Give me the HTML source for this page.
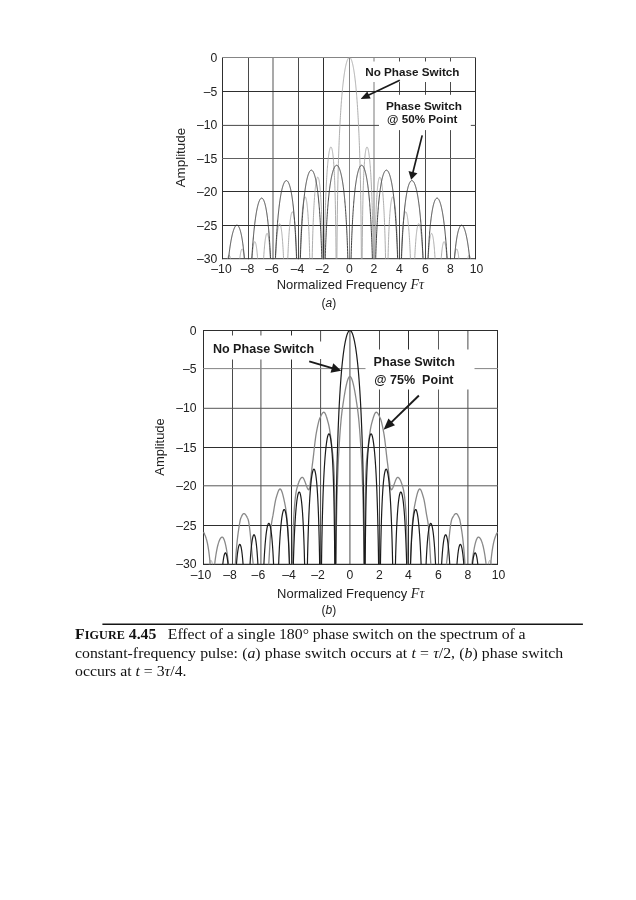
<!DOCTYPE html>
<html><head><meta charset="utf-8"><title>Figure 4.45</title>
<style>
html,body{margin:0;padding:0;background:#fff;}
body{width:636px;height:900px;position:relative;overflow:hidden;font-family:"Liberation Serif",serif;}
.cap{will-change:transform;position:absolute;left:75.3px;white-space:nowrap;font-family:"Liberation Serif",serif;font-size:15.2px;color:#111;line-height:18px;transform:scaleX(1.0395);transform-origin:0 0;}
.sc{font-weight:bold;font-size:11.7px;letter-spacing:0.1px;line-height:0}
.b{font-weight:bold}
</style></head><body>
<svg width="636" height="900" viewBox="0 0 636 900" style="position:absolute;left:0;top:0;will-change:transform" font-family="'Liberation Sans', sans-serif">
<line x1="222.5" y1="57" x2="222.5" y2="259.2" stroke="#2e2e2e" stroke-width="1.0"/>
<line x1="248.5" y1="57" x2="248.5" y2="259.2" stroke="#4a4a4a" stroke-width="1.0"/>
<line x1="273" y1="57" x2="273" y2="259.2" stroke="#858585" stroke-width="1.4"/>
<line x1="298.5" y1="57" x2="298.5" y2="259.2" stroke="#4a4a4a" stroke-width="1.0"/>
<line x1="323.5" y1="57" x2="323.5" y2="259.2" stroke="#2e2e2e" stroke-width="1.0"/>
<line x1="349.5" y1="57" x2="349.5" y2="259.2" stroke="#858585" stroke-width="1.0"/>
<line x1="374" y1="57" x2="374" y2="259.2" stroke="#a6a6a6" stroke-width="1.5"/>
<line x1="399.5" y1="57" x2="399.5" y2="259.2" stroke="#4a4a4a" stroke-width="1.0"/>
<line x1="425.5" y1="57" x2="425.5" y2="259.2" stroke="#4a4a4a" stroke-width="1.0"/>
<line x1="450.5" y1="57" x2="450.5" y2="259.2" stroke="#4a4a4a" stroke-width="1.0"/>
<line x1="475.5" y1="57" x2="475.5" y2="259.2" stroke="#2e2e2e" stroke-width="1.0"/>
<line x1="222" y1="57.5" x2="476" y2="57.5" stroke="#858585" stroke-width="1.0"/>
<line x1="222" y1="91.5" x2="476" y2="91.5" stroke="#2e2e2e" stroke-width="1.0"/>
<line x1="222" y1="125.4" x2="476" y2="125.4" stroke="#484848" stroke-width="1.0"/>
<line x1="222" y1="158.5" x2="476" y2="158.5" stroke="#606060" stroke-width="1.2"/>
<line x1="222" y1="191.5" x2="476" y2="191.5" stroke="#2e2e2e" stroke-width="1.0"/>
<line x1="222" y1="225.5" x2="476" y2="225.5" stroke="#2e2e2e" stroke-width="1.0"/>
<line x1="222" y1="258.7" x2="476" y2="258.7" stroke="#2e2e2e" stroke-width="1.0"/>
<rect x="361.5" y="61.5" width="103.5" height="20.5" fill="#fff"/>
<rect x="379" y="94.8" width="91.8" height="35.3" fill="#fff"/>
<path d="M227.73,258.7 L227.8,258.36 L227.91,257.9 L228.01,257.48 L228.12,257.1 L228.22,256.76 L228.32,256.45 L228.43,256.18 L228.53,255.95 L228.64,255.76 L228.74,255.6 L228.84,255.48 L228.95,255.39 L229.05,255.34 L229.16,255.33 L229.26,255.36 L229.36,255.42 L229.47,255.51 L229.57,255.65 L229.68,255.82 L229.78,256.03 L229.88,256.28 L229.99,256.56 L230.09,256.88 L230.2,257.25 L230.3,257.65 L230.4,258.09 L230.51,258.57 L230.53,258.7 M239.8,258.7 L239.87,258.07 L239.97,257.22 L240.08,256.42 L240.18,255.66 L240.28,254.95 L240.39,254.28 L240.49,253.65 L240.6,253.06 L240.7,252.52 L240.8,252.01 L240.91,251.55 L241.01,251.12 L241.12,250.73 L241.22,250.38 L241.32,250.07 L241.43,249.8 L241.53,249.56 L241.64,249.36 L241.74,249.2 L241.84,249.07 L241.95,248.98 L242.05,248.93 L242.16,248.91 L242.26,248.93 L242.36,248.98 L242.47,249.07 L242.57,249.2 L242.68,249.37 L242.78,249.57 L242.88,249.81 L242.99,250.09 L243.09,250.41 L243.2,250.76 L243.3,251.16 L243.4,251.6 L243.51,252.07 L243.61,252.59 L243.72,253.15 L243.82,253.76 L243.92,254.41 L244.03,255.1 L244.13,255.84 L244.24,256.63 L244.34,257.47 L244.44,258.36 L244.48,258.7 M251.91,258.7 L251.93,258.43 L252.03,257.2 L252.13,256.03 L252.22,254.92 L252.32,253.86 L252.42,252.86 L252.52,251.9 L252.62,251 L252.71,250.14 L252.81,249.33 L252.91,248.56 L253.01,247.84 L253.11,247.17 L253.2,246.53 L253.3,245.94 L253.4,245.39 L253.5,244.88 L253.6,244.4 L253.69,243.97 L253.79,243.58 L253.89,243.22 L253.99,242.9 L254.09,242.62 L254.18,242.38 L254.28,242.17 L254.38,242 L254.48,241.86 L254.58,241.76 L254.67,241.7 L254.77,241.68 L254.87,241.69 L254.97,241.74 L255.07,241.82 L255.16,241.94 L255.26,242.1 L255.36,242.3 L255.46,242.53 L255.56,242.8 L255.65,243.11 L255.75,243.46 L255.85,243.85 L255.95,244.28 L256.05,244.75 L256.14,245.26 L256.24,245.81 L256.34,246.41 L256.44,247.05 L256.54,247.74 L256.63,248.47 L256.73,249.26 L256.83,250.09 L256.93,250.97 L257.03,251.91 L257.12,252.9 L257.22,253.94 L257.32,255.05 L257.42,256.21 L257.52,257.45 L257.61,258.7 M263.62,258.7 L263.69,257.6 L263.79,256.02 L263.89,254.52 L263.98,253.09 L264.08,251.73 L264.18,250.43 L264.28,249.19 L264.38,248.02 L264.47,246.89 L264.57,245.83 L264.67,244.81 L264.77,243.85 L264.87,242.93 L264.96,242.07 L265.06,241.25 L265.16,240.47 L265.26,239.74 L265.36,239.06 L265.45,238.41 L265.55,237.81 L265.65,237.25 L265.75,236.73 L265.85,236.25 L265.94,235.81 L266.04,235.4 L266.14,235.04 L266.24,234.71 L266.34,234.42 L266.43,234.16 L266.53,233.95 L266.63,233.77 L266.73,233.62 L266.83,233.52 L266.92,233.45 L267.02,233.41 L267.12,233.41 L267.22,233.45 L267.32,233.53 L267.41,233.64 L267.51,233.79 L267.61,233.97 L267.71,234.2 L267.81,234.46 L267.9,234.76 L268,235.1 L268.1,235.48 L268.2,235.9 L268.3,236.36 L268.39,236.86 L268.49,237.4 L268.59,237.99 L268.69,238.62 L268.79,239.3 L268.88,240.02 L268.98,240.79 L269.08,241.62 L269.18,242.49 L269.28,243.41 L269.37,244.39 L269.47,245.43 L269.57,246.53 L269.67,247.68 L269.77,248.9 L269.86,250.19 L269.96,251.55 L270.06,252.98 L270.16,254.49 L270.26,256.08 L270.35,257.76 L270.41,258.7 M275.5,258.7 L275.55,257.55 L275.65,255.53 L275.75,253.6 L275.86,251.77 L275.96,250.03 L276.06,248.36 L276.16,246.78 L276.26,245.27 L276.37,243.82 L276.47,242.45 L276.57,241.14 L276.67,239.89 L276.77,238.7 L276.88,237.56 L276.98,236.49 L277.08,235.46 L277.18,234.48 L277.28,233.56 L277.39,232.68 L277.49,231.85 L277.59,231.06 L277.69,230.32 L277.79,229.62 L277.9,228.96 L278,228.35 L278.1,227.78 L278.2,227.24 L278.3,226.75 L278.41,226.29 L278.51,225.88 L278.61,225.5 L278.71,225.15 L278.81,224.84 L278.92,224.57 L279.02,224.33 L279.12,224.13 L279.22,223.97 L279.32,223.85 L279.43,223.76 L279.53,223.71 L279.63,223.7 L279.73,223.73 L279.83,223.79 L279.94,223.89 L280.04,224.03 L280.14,224.21 L280.24,224.43 L280.34,224.68 L280.45,224.97 L280.55,225.31 L280.65,225.68 L280.75,226.08 L280.85,226.53 L280.96,227.02 L281.06,227.55 L281.16,228.12 L281.26,228.74 L281.36,229.4 L281.47,230.12 L281.57,230.87 L281.67,231.68 L281.77,232.54 L281.87,233.45 L281.98,234.42 L282.08,235.44 L282.18,236.52 L282.28,237.67 L282.38,238.87 L282.49,240.15 L282.59,241.49 L282.69,242.91 L282.79,244.4 L282.89,245.98 L283,247.64 L283.1,249.4 L283.2,251.25 L283.3,253.21 L283.4,255.29 L283.51,257.48 L283.56,258.7 M287.79,258.7 L287.79,258.59 L287.89,255.93 L287.99,253.42 L288.1,251.04 L288.2,248.78 L288.3,246.64 L288.4,244.6 L288.5,242.66 L288.61,240.81 L288.71,239.05 L288.81,237.37 L288.91,235.76 L289.01,234.24 L289.12,232.78 L289.22,231.38 L289.32,230.06 L289.42,228.79 L289.52,227.58 L289.63,226.43 L289.73,225.33 L289.83,224.26 L289.93,223.24 L290.03,222.28 L290.14,221.36 L290.24,220.49 L290.34,219.67 L290.44,218.89 L290.54,218.15 L290.65,217.46 L290.75,216.82 L290.85,216.21 L290.95,215.65 L291.05,215.12 L291.16,214.64 L291.26,214.19 L291.36,213.79 L291.46,213.42 L291.56,213.09 L291.67,212.8 L291.77,212.54 L291.87,212.33 L291.97,212.15 L292.07,212.01 L292.18,211.9 L292.28,211.83 L292.38,211.8 L292.48,211.81 L292.58,211.85 L292.69,211.94 L292.79,212.05 L292.89,212.21 L292.99,212.41 L293.09,212.64 L293.2,212.92 L293.3,213.23 L293.4,213.59 L293.5,213.98 L293.6,214.42 L293.71,214.9 L293.81,215.42 L293.91,215.99 L294.01,216.6 L294.11,217.26 L294.22,217.97 L294.32,218.73 L294.42,219.53 L294.52,220.39 L294.62,221.3 L294.73,222.27 L294.83,223.3 L294.93,224.39 L295.03,225.54 L295.13,226.72 L295.24,227.97 L295.34,229.3 L295.44,230.69 L295.54,232.17 L295.64,233.72 L295.75,235.37 L295.85,237.1 L295.95,238.94 L296.05,240.88 L296.15,242.93 L296.26,245.1 L296.36,247.41 L296.46,249.86 L296.56,252.46 L296.66,255.24 L296.77,258.21 L296.78,258.7 M300.07,258.7 L300.1,257.7 L300.2,254.29 L300.3,251.09 L300.4,248.08 L300.5,245.24 L300.6,242.56 L300.7,240.02 L300.8,237.62 L300.9,235.33 L301,233.16 L301.1,231.1 L301.2,229.13 L301.3,227.26 L301.4,225.47 L301.5,223.72 L301.6,222.06 L301.7,220.46 L301.8,218.94 L301.9,217.49 L302,216.1 L302.1,214.78 L302.2,213.52 L302.3,212.31 L302.4,211.16 L302.5,210.06 L302.6,209.02 L302.7,208.02 L302.8,207.08 L302.9,206.18 L303,205.33 L303.1,204.52 L303.2,203.76 L303.3,203.04 L303.4,202.37 L303.5,201.73 L303.6,201.14 L303.7,200.59 L303.8,200.07 L303.9,199.6 L304,199.17 L304.1,198.77 L304.2,198.41 L304.3,198.09 L304.4,197.81 L304.5,197.56 L304.6,197.35 L304.7,197.18 L304.8,197.04 L304.9,196.94 L305,196.88 L305.1,196.86 L305.2,196.87 L305.3,196.92 L305.4,197.01 L305.5,197.14 L305.6,197.3 L305.7,197.51 L305.8,197.75 L305.9,198.03 L306,198.36 L306.1,198.72 L306.2,199.13 L306.3,199.57 L306.4,200.07 L306.5,200.6 L306.6,201.18 L306.7,201.81 L306.8,202.48 L306.9,203.21 L307,203.98 L307.1,204.81 L307.2,205.69 L307.3,206.62 L307.4,207.62 L307.5,208.67 L307.6,209.78 L307.7,210.97 L307.8,212.21 L307.9,213.54 L308,214.93 L308.1,216.41 L308.2,217.97 L308.3,219.61 L308.4,221.36 L308.5,223.2 L308.6,225.15 L308.7,227.18 L308.8,229.31 L308.9,231.59 L309,234 L309.1,236.57 L309.2,239.32 L309.3,242.25 L309.4,245.4 L309.5,248.78 L309.6,252.43 L309.7,256.39 L309.75,258.7 M312.17,258.7 L312.2,257.02 L312.3,252.39 L312.4,248.13 L312.5,244.16 L312.6,240.47 L312.7,237.02 L312.8,233.77 L312.9,230.72 L313,227.84 L313.1,225.11 L313.2,222.47 L313.3,219.96 L313.4,217.58 L313.5,215.31 L313.6,213.15 L313.7,211.09 L313.8,209.13 L313.9,207.25 L314,205.46 L314.1,203.75 L314.2,202.11 L314.3,200.54 L314.4,199.05 L314.5,197.61 L314.6,196.24 L314.7,194.93 L314.8,193.68 L314.9,192.48 L315,191.34 L315.1,190.28 L315.2,189.27 L315.3,188.3 L315.4,187.38 L315.5,186.51 L315.6,185.68 L315.7,184.89 L315.8,184.15 L315.9,183.44 L316,182.78 L316.1,182.15 L316.2,181.57 L316.3,181.02 L316.4,180.51 L316.5,180.04 L316.6,179.6 L316.7,179.2 L316.8,178.84 L316.9,178.51 L317,178.22 L317.1,177.97 L317.2,177.75 L317.3,177.56 L317.4,177.42 L317.5,177.3 L317.6,177.23 L317.7,177.19 L317.8,177.18 L317.9,177.22 L318,177.28 L318.1,177.39 L318.2,177.53 L318.3,177.71 L318.4,177.93 L318.5,178.19 L318.6,178.49 L318.7,178.82 L318.8,179.2 L318.9,179.62 L319,180.08 L319.1,180.59 L319.2,181.14 L319.3,181.73 L319.4,182.38 L319.5,183.07 L319.6,183.81 L319.7,184.6 L319.8,185.45 L319.9,186.36 L320,187.32 L320.1,188.34 L320.2,189.42 L320.3,190.57 L320.4,191.8 L320.5,193.13 L320.6,194.54 L320.7,196.03 L320.8,197.62 L320.9,199.29 L321,201.07 L321.1,202.95 L321.2,204.95 L321.3,207.07 L321.4,209.33 L321.5,211.73 L321.6,214.3 L321.7,217.04 L321.8,219.97 L321.9,223.12 L322,226.49 L322.1,230.08 L322.2,233.97 L322.3,238.21 L322.4,242.87 L322.5,248.02 L322.6,253.76 L322.68,258.7 M324.3,258.7 L324.33,256.53 L324.44,249.6 L324.54,243.4 L324.64,237.79 L324.75,232.67 L324.85,227.96 L324.96,223.57 L325.06,219.42 L325.16,215.55 L325.27,211.93 L325.37,208.52 L325.48,205.3 L325.58,202.26 L325.68,199.38 L325.79,196.65 L325.89,194.05 L326,191.58 L326.1,189.28 L326.2,187.1 L326.31,185.01 L326.41,183.01 L326.52,181.09 L326.62,179.26 L326.72,177.5 L326.83,175.82 L326.93,174.2 L327.04,172.65 L327.14,171.16 L327.24,169.73 L327.35,168.36 L327.45,167.04 L327.56,165.78 L327.66,164.57 L327.76,163.4 L327.87,162.29 L327.97,161.22 L328.08,160.2 L328.18,159.22 L328.28,158.28 L328.39,157.38 L328.49,156.53 L328.6,155.71 L328.7,154.93 L328.8,154.2 L328.91,153.5 L329.01,152.83 L329.12,152.21 L329.22,151.62 L329.32,151.07 L329.43,150.55 L329.53,150.07 L329.64,149.62 L329.74,149.21 L329.84,148.84 L329.95,148.49 L330.05,148.19 L330.16,147.92 L330.26,147.68 L330.36,147.48 L330.47,147.31 L330.57,147.18 L330.68,147.08 L330.78,147.02 L330.88,146.99 L330.99,147 L331.09,147.05 L331.2,147.13 L331.3,147.26 L331.4,147.42 L331.51,147.61 L331.61,147.85 L331.72,148.13 L331.82,148.45 L331.92,148.82 L332.03,149.22 L332.13,149.67 L332.24,150.17 L332.34,150.72 L332.44,151.31 L332.55,151.95 L332.65,152.65 L332.76,153.4 L332.86,154.21 L332.96,155.07 L333.07,156 L333.17,156.99 L333.28,158.05 L333.38,159.18 L333.48,160.38 L333.59,161.67 L333.69,163.03 L333.8,164.49 L333.9,166.04 L334,167.69 L334.11,169.46 L334.21,171.34 L334.32,173.35 L334.42,175.5 L334.52,177.8 L334.63,180.28 L334.73,182.94 L334.84,185.81 L334.94,188.91 L335.04,192.3 L335.15,196.08 L335.25,200.22 L335.36,204.79 L335.46,209.85 L335.56,215.51 L335.67,221.92 L335.77,229.18 L335.88,237.55 L335.98,247.56 L336.07,258.7 M336.9,258.7 L336.92,256.24 L337.02,242.94 L337.12,232.01 L337.23,222.65 L337.33,214.35 L337.44,206.99 L337.54,200.38 L337.64,194.36 L337.75,188.93 L337.85,183.98 L337.96,179.38 L338.06,175.08 L338.16,171.05 L338.27,167.25 L338.37,163.65 L338.48,160.24 L338.58,156.99 L338.68,153.89 L338.79,150.92 L338.89,148.08 L339,145.36 L339.1,142.75 L339.2,140.23 L339.31,137.81 L339.41,135.47 L339.52,133.22 L339.62,131.03 L339.72,128.93 L339.83,126.88 L339.93,124.89 L340.04,122.93 L340.14,121.02 L340.24,119.17 L340.35,117.37 L340.45,115.62 L340.56,113.92 L340.66,112.27 L340.76,110.66 L340.87,109.09 L340.97,107.56 L341.08,106.07 L341.18,104.62 L341.28,103.21 L341.39,101.83 L341.49,100.48 L341.6,99.17 L341.7,97.89 L341.8,96.64 L341.91,95.41 L342.01,94.22 L342.12,93.06 L342.22,91.92 L342.32,90.81 L342.43,89.72 L342.53,88.66 L342.64,87.62 L342.74,86.61 L342.84,85.62 L342.95,84.65 L343.05,83.7 L343.16,82.78 L343.26,81.88 L343.36,81 L343.47,80.14 L343.57,79.3 L343.68,78.48 L343.78,77.68 L343.88,76.9 L343.99,76.13 L344.09,75.39 L344.2,74.66 L344.3,73.96 L344.4,73.27 L344.51,72.59 L344.61,71.94 L344.72,71.3 L344.82,70.68 L344.92,70.07 L345.03,69.48 L345.13,68.91 L345.24,68.35 L345.34,67.81 L345.44,67.28 L345.55,66.77 L345.65,66.27 L345.76,65.79 L345.86,65.32 L345.96,64.87 L346.07,64.43 L346.17,64.01 L346.28,63.6 L346.38,63.21 L346.48,62.83 L346.59,62.46 L346.69,62.1 L346.8,61.76 L346.9,61.44 L347,61.13 L347.11,60.83 L347.21,60.54 L347.32,60.27 L347.42,60.01 L347.52,59.76 L347.63,59.53 L347.73,59.31 L347.84,59.1 L347.94,58.91 L348.04,58.72 L348.15,58.55 L348.25,58.4 L348.36,58.25 L348.46,58.12 L348.56,58 L348.67,57.9 L348.77,57.8 L348.88,57.72 L348.98,57.66 L349.08,57.6 L349.19,57.56 L349.29,57.52 L349.4,57.51 L349.5,57.5 L349.6,57.51 L349.7,57.52 L349.79,57.56 L349.89,57.6 L349.99,57.66 L350.09,57.72 L350.19,57.8 L350.28,57.9 L350.38,58 L350.48,58.12 L350.58,58.25 L350.68,58.4 L350.77,58.55 L350.87,58.72 L350.97,58.91 L351.07,59.1 L351.17,59.31 L351.26,59.53 L351.36,59.76 L351.46,60.01 L351.56,60.27 L351.66,60.54 L351.75,60.83 L351.85,61.13 L351.95,61.44 L352.05,61.76 L352.15,62.1 L352.24,62.46 L352.34,62.83 L352.44,63.21 L352.54,63.6 L352.64,64.01 L352.73,64.43 L352.83,64.87 L352.93,65.32 L353.03,65.79 L353.13,66.27 L353.22,66.77 L353.32,67.28 L353.42,67.81 L353.52,68.35 L353.62,68.91 L353.71,69.48 L353.81,70.07 L353.91,70.68 L354.01,71.3 L354.11,71.94 L354.2,72.59 L354.3,73.27 L354.4,73.96 L354.5,74.66 L354.6,75.39 L354.69,76.13 L354.79,76.9 L354.89,77.68 L354.99,78.48 L355.09,79.3 L355.18,80.14 L355.28,81 L355.38,81.88 L355.48,82.78 L355.58,83.7 L355.67,84.65 L355.77,85.62 L355.87,86.61 L355.97,87.62 L356.07,88.66 L356.16,89.72 L356.26,90.81 L356.36,91.92 L356.46,93.06 L356.56,94.22 L356.65,95.41 L356.75,96.64 L356.85,97.89 L356.95,99.17 L357.05,100.48 L357.14,101.83 L357.24,103.21 L357.34,104.62 L357.44,106.07 L357.54,107.56 L357.63,109.09 L357.73,110.66 L357.83,112.27 L357.93,113.92 L358.03,115.62 L358.12,117.37 L358.22,119.17 L358.32,121.02 L358.42,122.93 L358.52,124.89 L358.61,126.88 L358.71,128.93 L358.81,131.03 L358.91,133.22 L359.01,135.47 L359.1,137.81 L359.2,140.23 L359.3,142.75 L359.4,145.36 L359.5,148.08 L359.59,150.92 L359.69,153.89 L359.79,156.99 L359.89,160.24 L359.99,163.65 L360.08,167.25 L360.18,171.05 L360.28,175.08 L360.38,179.38 L360.48,183.98 L360.57,188.93 L360.67,194.36 L360.77,200.38 L360.87,206.99 L360.97,214.35 L361.06,222.65 L361.16,232.01 L361.26,242.94 L361.36,256.24 L361.37,258.7 M362.15,258.7 L362.24,247.56 L362.34,237.55 L362.44,229.18 L362.53,221.92 L362.63,215.51 L362.73,209.85 L362.83,204.79 L362.93,200.22 L363.02,196.08 L363.12,192.3 L363.22,188.91 L363.32,185.81 L363.42,182.94 L363.51,180.28 L363.61,177.8 L363.71,175.5 L363.81,173.35 L363.91,171.34 L364,169.46 L364.1,167.69 L364.2,166.04 L364.3,164.49 L364.4,163.03 L364.49,161.67 L364.59,160.38 L364.69,159.18 L364.79,158.05 L364.89,156.99 L364.98,156 L365.08,155.07 L365.18,154.21 L365.28,153.4 L365.38,152.65 L365.47,151.95 L365.57,151.31 L365.67,150.72 L365.77,150.17 L365.87,149.67 L365.96,149.22 L366.06,148.82 L366.16,148.45 L366.26,148.13 L366.36,147.85 L366.45,147.61 L366.55,147.42 L366.65,147.26 L366.75,147.13 L366.85,147.05 L366.94,147 L367.04,146.99 L367.14,147.02 L367.24,147.08 L367.34,147.18 L367.43,147.31 L367.53,147.48 L367.63,147.68 L367.73,147.92 L367.83,148.19 L367.92,148.49 L368.02,148.84 L368.12,149.21 L368.22,149.62 L368.32,150.07 L368.41,150.55 L368.51,151.07 L368.61,151.62 L368.71,152.21 L368.81,152.83 L368.9,153.5 L369,154.2 L369.1,154.93 L369.2,155.71 L369.3,156.53 L369.39,157.38 L369.49,158.28 L369.59,159.22 L369.69,160.2 L369.79,161.22 L369.88,162.29 L369.98,163.4 L370.08,164.57 L370.18,165.78 L370.28,167.04 L370.37,168.36 L370.47,169.73 L370.57,171.16 L370.67,172.65 L370.77,174.2 L370.86,175.82 L370.96,177.5 L371.06,179.26 L371.16,181.09 L371.26,183.01 L371.35,185.01 L371.45,187.1 L371.55,189.28 L371.65,191.58 L371.75,194.05 L371.84,196.65 L371.94,199.38 L372.04,202.26 L372.14,205.3 L372.24,208.52 L372.33,211.93 L372.43,215.55 L372.53,219.42 L372.63,223.57 L372.73,227.96 L372.82,232.67 L372.92,237.79 L373.02,243.4 L373.12,249.6 L373.22,256.53 L373.24,258.7 M374.84,258.7 L374.92,253.76 L375.02,248.02 L375.12,242.87 L375.22,238.21 L375.33,233.97 L375.43,230.08 L375.53,226.49 L375.63,223.12 L375.73,219.97 L375.84,217.04 L375.94,214.3 L376.04,211.73 L376.14,209.33 L376.24,207.07 L376.35,204.95 L376.45,202.95 L376.55,201.07 L376.65,199.29 L376.75,197.62 L376.86,196.03 L376.96,194.54 L377.06,193.13 L377.16,191.8 L377.26,190.57 L377.37,189.42 L377.47,188.34 L377.57,187.32 L377.67,186.36 L377.77,185.45 L377.88,184.6 L377.98,183.81 L378.08,183.07 L378.18,182.38 L378.28,181.73 L378.39,181.14 L378.49,180.59 L378.59,180.08 L378.69,179.62 L378.79,179.2 L378.9,178.82 L379,178.49 L379.1,178.19 L379.2,177.93 L379.3,177.71 L379.41,177.53 L379.51,177.39 L379.61,177.28 L379.71,177.22 L379.81,177.18 L379.92,177.19 L380.02,177.23 L380.12,177.3 L380.22,177.42 L380.32,177.56 L380.43,177.75 L380.53,177.97 L380.63,178.22 L380.73,178.51 L380.83,178.84 L380.94,179.2 L381.04,179.6 L381.14,180.04 L381.24,180.51 L381.34,181.02 L381.45,181.57 L381.55,182.15 L381.65,182.78 L381.75,183.44 L381.85,184.15 L381.96,184.89 L382.06,185.68 L382.16,186.51 L382.26,187.38 L382.36,188.3 L382.47,189.27 L382.57,190.28 L382.67,191.34 L382.77,192.48 L382.87,193.68 L382.98,194.93 L383.08,196.24 L383.18,197.61 L383.28,199.05 L383.38,200.54 L383.49,202.11 L383.59,203.75 L383.69,205.46 L383.79,207.25 L383.89,209.13 L384,211.09 L384.1,213.15 L384.2,215.31 L384.3,217.58 L384.4,219.96 L384.51,222.47 L384.61,225.11 L384.71,227.84 L384.81,230.72 L384.91,233.77 L385.02,237.02 L385.12,240.47 L385.22,244.16 L385.32,248.13 L385.42,252.39 L385.53,257.02 L385.56,258.7 M388.02,258.7 L388.08,256.39 L388.18,252.43 L388.28,248.78 L388.38,245.4 L388.48,242.25 L388.59,239.32 L388.69,236.57 L388.79,234 L388.89,231.59 L388.99,229.31 L389.1,227.18 L389.2,225.15 L389.3,223.2 L389.4,221.36 L389.5,219.61 L389.61,217.97 L389.71,216.41 L389.81,214.93 L389.91,213.54 L390.01,212.21 L390.12,210.97 L390.22,209.78 L390.32,208.67 L390.42,207.62 L390.52,206.62 L390.63,205.69 L390.73,204.81 L390.83,203.98 L390.93,203.21 L391.03,202.48 L391.14,201.81 L391.24,201.18 L391.34,200.6 L391.44,200.07 L391.54,199.57 L391.65,199.13 L391.75,198.72 L391.85,198.36 L391.95,198.03 L392.05,197.75 L392.16,197.51 L392.26,197.3 L392.36,197.14 L392.46,197.01 L392.56,196.92 L392.67,196.87 L392.77,196.86 L392.87,196.88 L392.97,196.94 L393.07,197.04 L393.18,197.18 L393.28,197.35 L393.38,197.56 L393.48,197.81 L393.58,198.09 L393.69,198.41 L393.79,198.77 L393.89,199.17 L393.99,199.6 L394.09,200.07 L394.2,200.59 L394.3,201.14 L394.4,201.73 L394.5,202.37 L394.6,203.04 L394.71,203.76 L394.81,204.52 L394.91,205.33 L395.01,206.18 L395.11,207.08 L395.22,208.02 L395.32,209.02 L395.42,210.06 L395.52,211.16 L395.62,212.31 L395.73,213.52 L395.83,214.78 L395.93,216.1 L396.03,217.49 L396.13,218.94 L396.24,220.46 L396.34,222.06 L396.44,223.72 L396.54,225.47 L396.64,227.26 L396.75,229.13 L396.85,231.1 L396.95,233.16 L397.05,235.33 L397.15,237.62 L397.26,240.02 L397.36,242.56 L397.46,245.24 L397.56,248.08 L397.66,251.09 L397.77,254.29 L397.87,257.7 L397.9,258.7 M401.25,258.7 L401.27,258.21 L401.37,255.24 L401.48,252.46 L401.58,249.86 L401.68,247.41 L401.79,245.1 L401.89,242.93 L402,240.88 L402.1,238.94 L402.2,237.1 L402.31,235.37 L402.41,233.72 L402.52,232.17 L402.62,230.69 L402.72,229.3 L402.83,227.97 L402.93,226.72 L403.04,225.54 L403.14,224.39 L403.24,223.3 L403.35,222.27 L403.45,221.3 L403.56,220.39 L403.66,219.53 L403.76,218.73 L403.87,217.97 L403.97,217.26 L404.08,216.6 L404.18,215.99 L404.28,215.42 L404.39,214.9 L404.49,214.42 L404.6,213.98 L404.7,213.59 L404.8,213.23 L404.91,212.92 L405.01,212.64 L405.12,212.41 L405.22,212.21 L405.32,212.05 L405.43,211.94 L405.53,211.85 L405.64,211.81 L405.74,211.8 L405.84,211.83 L405.95,211.9 L406.05,212.01 L406.16,212.15 L406.26,212.33 L406.36,212.54 L406.47,212.8 L406.57,213.09 L406.68,213.42 L406.78,213.79 L406.88,214.19 L406.99,214.64 L407.09,215.12 L407.2,215.65 L407.3,216.21 L407.4,216.82 L407.51,217.46 L407.61,218.15 L407.72,218.89 L407.82,219.67 L407.92,220.49 L408.03,221.36 L408.13,222.28 L408.24,223.24 L408.34,224.26 L408.44,225.33 L408.55,226.43 L408.65,227.58 L408.76,228.79 L408.86,230.06 L408.96,231.38 L409.07,232.78 L409.17,234.24 L409.28,235.76 L409.38,237.37 L409.48,239.05 L409.59,240.81 L409.69,242.66 L409.8,244.6 L409.9,246.64 L410,248.78 L410.11,251.04 L410.21,253.42 L410.32,255.93 L410.42,258.59 L410.42,258.7 M414.73,258.7 L414.79,257.48 L414.89,255.29 L415,253.21 L415.1,251.25 L415.2,249.4 L415.31,247.64 L415.41,245.98 L415.52,244.4 L415.62,242.91 L415.72,241.49 L415.83,240.15 L415.93,238.87 L416.04,237.67 L416.14,236.52 L416.24,235.44 L416.35,234.42 L416.45,233.45 L416.56,232.54 L416.66,231.68 L416.76,230.87 L416.87,230.12 L416.97,229.4 L417.08,228.74 L417.18,228.12 L417.28,227.55 L417.39,227.02 L417.49,226.53 L417.6,226.08 L417.7,225.68 L417.8,225.31 L417.91,224.97 L418.01,224.68 L418.12,224.43 L418.22,224.21 L418.32,224.03 L418.43,223.89 L418.53,223.79 L418.64,223.73 L418.74,223.7 L418.84,223.71 L418.95,223.76 L419.05,223.85 L419.16,223.97 L419.26,224.13 L419.36,224.33 L419.47,224.57 L419.57,224.84 L419.68,225.15 L419.78,225.5 L419.88,225.88 L419.99,226.29 L420.09,226.75 L420.2,227.24 L420.3,227.78 L420.4,228.35 L420.51,228.96 L420.61,229.62 L420.72,230.32 L420.82,231.06 L420.92,231.85 L421.03,232.68 L421.13,233.56 L421.24,234.48 L421.34,235.46 L421.44,236.49 L421.55,237.56 L421.65,238.7 L421.76,239.89 L421.86,241.14 L421.96,242.45 L422.07,243.82 L422.17,245.27 L422.28,246.78 L422.38,248.36 L422.48,250.03 L422.59,251.77 L422.69,253.6 L422.8,255.53 L422.9,257.55 L422.96,258.7 M428.15,258.7 L428.2,257.76 L428.3,256.08 L428.4,254.49 L428.5,252.98 L428.6,251.55 L428.7,250.19 L428.8,248.9 L428.9,247.68 L429,246.53 L429.1,245.43 L429.2,244.39 L429.3,243.41 L429.4,242.49 L429.5,241.62 L429.6,240.79 L429.7,240.02 L429.8,239.3 L429.9,238.62 L430,237.99 L430.1,237.4 L430.2,236.86 L430.3,236.36 L430.4,235.9 L430.5,235.48 L430.6,235.1 L430.7,234.76 L430.8,234.46 L430.9,234.2 L431,233.97 L431.1,233.79 L431.2,233.64 L431.3,233.53 L431.4,233.45 L431.5,233.41 L431.6,233.41 L431.7,233.45 L431.8,233.52 L431.9,233.62 L432,233.77 L432.1,233.95 L432.2,234.16 L432.3,234.42 L432.4,234.71 L432.5,235.04 L432.6,235.4 L432.7,235.81 L432.8,236.25 L432.9,236.73 L433,237.25 L433.1,237.81 L433.2,238.41 L433.3,239.06 L433.4,239.74 L433.5,240.47 L433.6,241.25 L433.7,242.07 L433.8,242.93 L433.9,243.85 L434,244.81 L434.1,245.83 L434.2,246.89 L434.3,248.02 L434.4,249.19 L434.5,250.43 L434.6,251.73 L434.7,253.09 L434.8,254.52 L434.9,256.02 L435,257.6 L435.07,258.7 M441.2,258.7 L441.3,257.45 L441.4,256.21 L441.5,255.05 L441.6,253.94 L441.7,252.9 L441.8,251.91 L441.9,250.97 L442,250.09 L442.1,249.26 L442.2,248.47 L442.3,247.74 L442.4,247.05 L442.5,246.41 L442.6,245.81 L442.7,245.26 L442.8,244.75 L442.9,244.28 L443,243.85 L443.1,243.46 L443.2,243.11 L443.3,242.8 L443.4,242.53 L443.5,242.3 L443.6,242.1 L443.7,241.94 L443.8,241.82 L443.9,241.74 L444,241.69 L444.1,241.68 L444.2,241.7 L444.3,241.76 L444.4,241.86 L444.5,242 L444.6,242.17 L444.7,242.38 L444.8,242.62 L444.9,242.9 L445,243.22 L445.1,243.58 L445.2,243.97 L445.3,244.4 L445.4,244.88 L445.5,245.39 L445.6,245.94 L445.7,246.53 L445.8,247.17 L445.9,247.84 L446,248.56 L446.1,249.33 L446.2,250.14 L446.3,251 L446.4,251.9 L446.5,252.86 L446.6,253.86 L446.7,254.92 L446.8,256.03 L446.9,257.2 L447,258.43 L447.02,258.7 M454.36,258.7 L454.4,258.36 L454.5,257.47 L454.6,256.63 L454.7,255.84 L454.8,255.1 L454.9,254.41 L455,253.76 L455.1,253.15 L455.2,252.59 L455.3,252.07 L455.4,251.6 L455.5,251.16 L455.6,250.76 L455.7,250.41 L455.8,250.09 L455.9,249.81 L456,249.57 L456.1,249.37 L456.2,249.2 L456.3,249.07 L456.4,248.98 L456.5,248.93 L456.6,248.91 L456.7,248.93 L456.8,248.98 L456.9,249.07 L457,249.2 L457.1,249.36 L457.2,249.56 L457.3,249.8 L457.4,250.07 L457.5,250.38 L457.6,250.73 L457.7,251.12 L457.8,251.55 L457.9,252.01 L458,252.52 L458.1,253.06 L458.2,253.65 L458.3,254.28 L458.4,254.95 L458.5,255.66 L458.6,256.42 L458.7,257.22 L458.8,258.07 L458.87,258.7 M467.78,258.7 L467.8,258.57 L467.9,258.09 L468,257.65 L468.1,257.25 L468.2,256.88 L468.3,256.56 L468.4,256.28 L468.5,256.03 L468.6,255.82 L468.7,255.65 L468.8,255.51 L468.9,255.42 L469,255.36 L469.1,255.33 L469.2,255.34 L469.3,255.39 L469.4,255.48 L469.5,255.6 L469.6,255.76 L469.7,255.95 L469.8,256.18 L469.9,256.45 L470,256.76 L470.1,257.1 L470.2,257.48 L470.3,257.9 L470.4,258.36 L470.47,258.7" fill="none" stroke="#a4a4a4" stroke-width="0.9" stroke-linejoin="round"/>
<path d="M228.53,258.7 L228.53,258.68 L228.64,257.73 L228.74,256.81 L228.84,255.9 L228.95,255.02 L229.05,254.15 L229.16,253.3 L229.26,252.47 L229.36,251.66 L229.47,250.86 L229.57,250.08 L229.68,249.32 L229.78,248.57 L229.88,247.84 L229.99,247.12 L230.09,246.42 L230.2,245.73 L230.3,245.05 L230.4,244.4 L230.51,243.75 L230.61,243.12 L230.72,242.5 L230.82,241.89 L230.92,241.3 L231.03,240.72 L231.13,240.16 L231.24,239.6 L231.34,239.06 L231.44,238.53 L231.55,238.01 L231.65,237.51 L231.76,237.01 L231.86,236.53 L231.96,236.06 L232.07,235.59 L232.17,235.14 L232.28,234.71 L232.38,234.28 L232.48,233.86 L232.59,233.45 L232.69,233.06 L232.8,232.67 L232.9,232.3 L233,231.93 L233.11,231.58 L233.21,231.23 L233.32,230.9 L233.42,230.57 L233.52,230.26 L233.63,229.95 L233.73,229.66 L233.84,229.37 L233.94,229.1 L234.04,228.83 L234.15,228.58 L234.25,228.33 L234.36,228.09 L234.46,227.86 L234.56,227.64 L234.67,227.44 L234.77,227.24 L234.88,227.05 L234.98,226.86 L235.08,226.69 L235.19,226.53 L235.29,226.38 L235.4,226.23 L235.5,226.1 L235.6,225.97 L235.71,225.86 L235.81,225.75 L235.92,225.65 L236.02,225.57 L236.12,225.49 L236.23,225.42 L236.33,225.36 L236.44,225.3 L236.54,225.26 L236.64,225.23 L236.75,225.21 L236.85,225.19 L236.96,225.19 L237.06,225.2 L237.16,225.21 L237.27,225.24 L237.37,225.28 L237.48,225.32 L237.58,225.38 L237.68,225.45 L237.79,225.52 L237.89,225.61 L238,225.7 L238.1,225.81 L238.2,225.92 L238.31,226.05 L238.41,226.19 L238.52,226.33 L238.62,226.49 L238.72,226.66 L238.83,226.84 L238.93,227.03 L239.04,227.23 L239.14,227.44 L239.24,227.67 L239.35,227.9 L239.45,228.15 L239.56,228.41 L239.66,228.68 L239.76,228.96 L239.87,229.25 L239.97,229.56 L240.08,229.88 L240.18,230.21 L240.28,230.56 L240.39,230.92 L240.49,231.29 L240.6,231.67 L240.7,232.07 L240.8,232.48 L240.91,232.91 L241.01,233.35 L241.12,233.81 L241.22,234.28 L241.32,234.77 L241.43,235.28 L241.53,235.8 L241.64,236.33 L241.74,236.89 L241.84,237.46 L241.95,238.05 L242.05,238.65 L242.16,239.28 L242.26,239.92 L242.36,240.59 L242.47,241.27 L242.57,241.97 L242.68,242.7 L242.78,243.45 L242.88,244.22 L242.99,245.01 L243.09,245.83 L243.2,246.67 L243.3,247.54 L243.4,248.44 L243.51,249.36 L243.61,250.31 L243.72,251.29 L243.82,252.3 L243.92,253.35 L244.03,254.42 L244.13,255.53 L244.24,256.68 L244.34,257.87 L244.41,258.7 M251.83,258.7 L251.83,258.58 L251.93,256.91 L252.03,255.3 L252.13,253.73 L252.22,252.2 L252.32,250.72 L252.42,249.28 L252.52,247.89 L252.62,246.52 L252.71,245.2 L252.81,243.91 L252.91,242.65 L253.01,241.42 L253.11,240.23 L253.2,239.06 L253.3,237.92 L253.4,236.81 L253.5,235.73 L253.6,234.67 L253.69,233.64 L253.79,232.63 L253.89,231.64 L253.99,230.68 L254.09,229.74 L254.18,228.82 L254.28,227.92 L254.38,227.04 L254.48,226.18 L254.58,225.34 L254.67,224.5 L254.77,223.67 L254.87,222.87 L254.97,222.08 L255.07,221.31 L255.16,220.56 L255.26,219.82 L255.36,219.1 L255.46,218.4 L255.56,217.71 L255.65,217.03 L255.75,216.38 L255.85,215.73 L255.95,215.1 L256.05,214.49 L256.14,213.89 L256.24,213.3 L256.34,212.72 L256.44,212.16 L256.54,211.61 L256.63,211.08 L256.73,210.56 L256.83,210.05 L256.93,209.55 L257.03,209.06 L257.12,208.59 L257.22,208.13 L257.32,207.68 L257.42,207.24 L257.52,206.81 L257.61,206.4 L257.71,205.99 L257.81,205.6 L257.91,205.22 L258.01,204.84 L258.1,204.48 L258.2,204.13 L258.3,203.79 L258.4,203.46 L258.5,203.14 L258.59,202.84 L258.69,202.54 L258.79,202.25 L258.89,201.97 L258.99,201.7 L259.08,201.44 L259.18,201.2 L259.28,200.96 L259.38,200.73 L259.48,200.51 L259.57,200.3 L259.67,200.1 L259.77,199.91 L259.87,199.73 L259.97,199.56 L260.06,199.4 L260.16,199.25 L260.26,199.11 L260.36,198.97 L260.46,198.85 L260.55,198.74 L260.65,198.63 L260.75,198.54 L260.85,198.45 L260.95,198.38 L261.04,198.31 L261.14,198.26 L261.24,198.21 L261.34,198.17 L261.44,198.14 L261.53,198.13 L261.63,198.12 L261.73,198.12 L261.83,198.13 L261.93,198.15 L262.02,198.18 L262.12,198.22 L262.22,198.27 L262.32,198.33 L262.42,198.39 L262.51,198.47 L262.61,198.56 L262.71,198.66 L262.81,198.77 L262.91,198.89 L263,199.02 L263.1,199.16 L263.2,199.31 L263.3,199.47 L263.4,199.64 L263.49,199.82 L263.59,200.01 L263.69,200.22 L263.79,200.43 L263.89,200.66 L263.98,200.89 L264.08,201.14 L264.18,201.4 L264.28,201.67 L264.38,201.95 L264.47,202.25 L264.57,202.55 L264.67,202.87 L264.77,203.2 L264.87,203.54 L264.96,203.9 L265.06,204.27 L265.16,204.65 L265.26,205.04 L265.36,205.45 L265.45,205.87 L265.55,206.31 L265.65,206.76 L265.75,207.22 L265.85,207.7 L265.94,208.19 L266.04,208.7 L266.14,209.23 L266.24,209.77 L266.34,210.32 L266.43,210.9 L266.53,211.49 L266.63,212.1 L266.73,212.72 L266.83,213.36 L266.92,214.02 L267.02,214.71 L267.12,215.41 L267.22,216.13 L267.32,216.87 L267.41,217.63 L267.51,218.41 L267.61,219.22 L267.71,220.05 L267.81,220.9 L267.9,221.78 L268,222.68 L268.1,223.61 L268.2,224.57 L268.3,225.55 L268.39,226.54 L268.49,227.56 L268.59,228.61 L268.69,229.69 L268.79,230.81 L268.88,231.96 L268.98,233.14 L269.08,234.37 L269.18,235.63 L269.28,236.93 L269.37,238.28 L269.47,239.67 L269.57,241.11 L269.67,242.6 L269.77,244.15 L269.86,245.75 L269.96,247.41 L270.06,249.13 L270.16,250.92 L270.26,252.78 L270.35,254.72 L270.45,256.75 L270.54,258.7 M275.41,258.7 L275.45,257.68 L275.55,255.33 L275.65,253.08 L275.75,250.92 L275.86,248.84 L275.96,246.84 L276.06,244.91 L276.16,243.04 L276.26,241.24 L276.37,239.5 L276.47,237.81 L276.57,236.18 L276.67,234.6 L276.77,233.07 L276.88,231.58 L276.98,230.13 L277.08,228.73 L277.18,227.37 L277.28,226.04 L277.39,224.73 L277.49,223.44 L277.59,222.19 L277.69,220.97 L277.79,219.78 L277.9,218.63 L278,217.5 L278.1,216.4 L278.2,215.32 L278.3,214.27 L278.41,213.25 L278.51,212.25 L278.61,211.28 L278.71,210.33 L278.81,209.4 L278.92,208.49 L279.02,207.61 L279.12,206.74 L279.22,205.9 L279.32,205.07 L279.43,204.27 L279.53,203.48 L279.63,202.71 L279.73,201.96 L279.83,201.22 L279.94,200.5 L280.04,199.8 L280.14,199.12 L280.24,198.45 L280.34,197.79 L280.45,197.16 L280.55,196.53 L280.65,195.92 L280.75,195.33 L280.85,194.75 L280.96,194.18 L281.06,193.63 L281.16,193.09 L281.26,192.56 L281.36,192.05 L281.47,191.55 L281.57,191.07 L281.67,190.61 L281.77,190.16 L281.87,189.72 L281.98,189.3 L282.08,188.88 L282.18,188.48 L282.28,188.09 L282.38,187.7 L282.49,187.33 L282.59,186.97 L282.69,186.62 L282.79,186.29 L282.89,185.96 L283,185.64 L283.1,185.33 L283.2,185.04 L283.3,184.75 L283.4,184.47 L283.51,184.21 L283.61,183.95 L283.71,183.7 L283.81,183.46 L283.91,183.24 L284.02,183.02 L284.12,182.81 L284.22,182.61 L284.32,182.42 L284.42,182.24 L284.53,182.07 L284.63,181.91 L284.73,181.76 L284.83,181.62 L284.93,181.48 L285.04,181.36 L285.14,181.24 L285.24,181.14 L285.34,181.04 L285.44,180.95 L285.55,180.88 L285.65,180.81 L285.75,180.75 L285.85,180.7 L285.95,180.66 L286.06,180.62 L286.16,180.6 L286.26,180.59 L286.36,180.58 L286.46,180.59 L286.57,180.6 L286.67,180.62 L286.77,180.66 L286.87,180.7 L286.97,180.75 L287.08,180.81 L287.18,180.88 L287.28,180.96 L287.38,181.05 L287.48,181.15 L287.59,181.25 L287.69,181.37 L287.79,181.5 L287.89,181.64 L287.99,181.78 L288.1,181.94 L288.2,182.11 L288.3,182.28 L288.4,182.47 L288.5,182.67 L288.61,182.87 L288.71,183.09 L288.81,183.32 L288.91,183.56 L289.01,183.81 L289.12,184.07 L289.22,184.34 L289.32,184.62 L289.42,184.91 L289.52,185.22 L289.63,185.54 L289.73,185.86 L289.83,186.2 L289.93,186.55 L290.03,186.92 L290.14,187.29 L290.24,187.68 L290.34,188.08 L290.44,188.5 L290.54,188.92 L290.65,189.36 L290.75,189.81 L290.85,190.28 L290.95,190.76 L291.05,191.26 L291.16,191.77 L291.26,192.32 L291.36,192.87 L291.46,193.44 L291.56,194.03 L291.67,194.63 L291.77,195.25 L291.87,195.89 L291.97,196.55 L292.07,197.22 L292.18,197.92 L292.28,198.63 L292.38,199.36 L292.48,200.11 L292.58,200.88 L292.69,201.67 L292.79,202.49 L292.89,203.32 L292.99,204.18 L293.09,205.07 L293.2,205.98 L293.3,206.91 L293.4,207.87 L293.5,208.86 L293.6,209.87 L293.71,210.92 L293.81,211.99 L293.91,213.1 L294.01,214.23 L294.11,215.41 L294.22,216.61 L294.32,217.86 L294.42,219.14 L294.52,220.46 L294.62,221.83 L294.73,223.24 L294.83,224.69 L294.93,226.18 L295.03,227.7 L295.13,229.28 L295.24,230.91 L295.34,232.6 L295.44,234.35 L295.54,236.17 L295.64,238.06 L295.75,240.03 L295.85,242.08 L295.95,244.22 L296.05,246.45 L296.15,248.79 L296.26,251.24 L296.36,253.81 L296.46,256.52 L296.54,258.7 M300.37,258.7 L300.4,257.77 L300.5,254.83 L300.6,252.04 L300.7,249.39 L300.8,246.85 L300.9,244.43 L301,242.11 L301.1,239.88 L301.2,237.75 L301.3,235.7 L301.4,233.72 L301.5,231.82 L301.6,229.98 L301.7,228.21 L301.8,226.49 L301.9,224.82 L302,223.18 L302.1,221.58 L302.2,220.04 L302.3,218.54 L302.4,217.09 L302.5,215.68 L302.6,214.31 L302.7,212.98 L302.8,211.69 L302.9,210.43 L303,209.21 L303.1,208.01 L303.2,206.85 L303.3,205.72 L303.4,204.62 L303.5,203.55 L303.6,202.5 L303.7,201.48 L303.8,200.49 L303.9,199.51 L304,198.57 L304.1,197.64 L304.2,196.74 L304.3,195.86 L304.4,195.01 L304.5,194.17 L304.6,193.35 L304.7,192.55 L304.8,191.77 L304.9,191.03 L305,190.31 L305.1,189.6 L305.2,188.92 L305.3,188.24 L305.4,187.59 L305.5,186.95 L305.6,186.33 L305.7,185.72 L305.8,185.13 L305.9,184.55 L306,183.98 L306.1,183.43 L306.2,182.89 L306.3,182.37 L306.4,181.86 L306.5,181.36 L306.6,180.87 L306.7,180.4 L306.8,179.94 L306.9,179.49 L307,179.06 L307.1,178.63 L307.2,178.22 L307.3,177.82 L307.4,177.43 L307.5,177.05 L307.6,176.69 L307.7,176.33 L307.8,175.99 L307.9,175.65 L308,175.33 L308.1,175.02 L308.2,174.71 L308.3,174.42 L308.4,174.14 L308.5,173.87 L308.6,173.61 L308.7,173.36 L308.8,173.11 L308.9,172.88 L309,172.66 L309.1,172.45 L309.2,172.25 L309.3,172.05 L309.4,171.87 L309.5,171.7 L309.6,171.53 L309.7,171.38 L309.8,171.23 L309.9,171.1 L310,170.97 L310.1,170.85 L310.2,170.74 L310.3,170.64 L310.4,170.56 L310.5,170.47 L310.6,170.4 L310.7,170.34 L310.8,170.29 L310.9,170.24 L311,170.21 L311.1,170.18 L311.2,170.17 L311.3,170.16 L311.4,170.16 L311.5,170.17 L311.6,170.19 L311.7,170.22 L311.8,170.26 L311.9,170.31 L312,170.37 L312.1,170.43 L312.2,170.51 L312.3,170.59 L312.4,170.69 L312.5,170.79 L312.6,170.9 L312.7,171.03 L312.8,171.16 L312.9,171.3 L313,171.45 L313.1,171.61 L313.2,171.79 L313.3,171.97 L313.4,172.16 L313.5,172.36 L313.6,172.57 L313.7,172.79 L313.8,173.02 L313.9,173.26 L314,173.52 L314.1,173.78 L314.2,174.05 L314.3,174.34 L314.4,174.63 L314.5,174.94 L314.6,175.26 L314.7,175.59 L314.8,175.93 L314.9,176.28 L315,176.64 L315.1,177.02 L315.2,177.4 L315.3,177.8 L315.4,178.22 L315.5,178.64 L315.6,179.08 L315.7,179.53 L315.8,179.99 L315.9,180.47 L316,180.96 L316.1,181.46 L316.2,181.98 L316.3,182.52 L316.4,183.06 L316.5,183.63 L316.6,184.2 L316.7,184.8 L316.8,185.41 L316.9,186.03 L317,186.68 L317.1,187.34 L317.2,188.02 L317.3,188.71 L317.4,189.43 L317.5,190.16 L317.6,190.91 L317.7,191.69 L317.8,192.51 L317.9,193.34 L318,194.21 L318.1,195.09 L318.2,196 L318.3,196.93 L318.4,197.89 L318.5,198.87 L318.6,199.88 L318.7,200.92 L318.8,201.99 L318.9,203.09 L319,204.22 L319.1,205.38 L319.2,206.57 L319.3,207.81 L319.4,209.07 L319.5,210.38 L319.6,211.73 L319.7,213.12 L319.8,214.55 L319.9,216.03 L320,217.56 L320.1,219.14 L320.2,220.77 L320.3,222.47 L320.4,224.22 L320.5,226.03 L320.6,227.87 L320.7,229.78 L320.8,231.77 L320.9,233.85 L321,236.01 L321.1,238.27 L321.2,240.63 L321.3,243.1 L321.4,245.7 L321.5,248.43 L321.6,251.31 L321.7,254.35 L321.8,257.57 L321.83,258.7 M325.21,258.7 L325.27,256.9 L325.37,253.64 L325.48,250.56 L325.58,247.64 L325.68,244.87 L325.79,242.24 L325.89,239.72 L326,237.32 L326.1,235.03 L326.2,232.83 L326.31,230.71 L326.41,228.68 L326.52,226.73 L326.62,224.83 L326.72,222.97 L326.83,221.18 L326.93,219.44 L327.04,217.77 L327.14,216.15 L327.24,214.58 L327.35,213.06 L327.45,211.59 L327.56,210.16 L327.66,208.77 L327.76,207.42 L327.87,206.11 L327.97,204.84 L328.08,203.61 L328.18,202.4 L328.28,201.23 L328.39,200.09 L328.49,198.99 L328.6,197.91 L328.7,196.86 L328.8,195.83 L328.91,194.83 L329.01,193.86 L329.12,192.91 L329.22,191.99 L329.32,191.1 L329.43,190.25 L329.53,189.41 L329.64,188.6 L329.74,187.81 L329.84,187.04 L329.95,186.29 L330.05,185.55 L330.16,184.83 L330.26,184.13 L330.36,183.45 L330.47,182.79 L330.57,182.14 L330.68,181.5 L330.78,180.89 L330.88,180.28 L330.99,179.7 L331.09,179.12 L331.2,178.57 L331.3,178.02 L331.4,177.49 L331.51,176.98 L331.61,176.47 L331.72,175.98 L331.82,175.51 L331.92,175.04 L332.03,174.59 L332.13,174.15 L332.24,173.73 L332.34,173.31 L332.44,172.91 L332.55,172.52 L332.65,172.14 L332.76,171.77 L332.86,171.41 L332.96,171.07 L333.07,170.73 L333.17,170.41 L333.28,170.09 L333.38,169.79 L333.48,169.5 L333.59,169.22 L333.69,168.95 L333.8,168.69 L333.9,168.44 L334,168.2 L334.11,167.97 L334.21,167.74 L334.32,167.53 L334.42,167.33 L334.52,167.14 L334.63,166.96 L334.73,166.79 L334.84,166.63 L334.94,166.47 L335.04,166.33 L335.15,166.2 L335.25,166.07 L335.36,165.96 L335.46,165.85 L335.56,165.75 L335.67,165.66 L335.77,165.59 L335.88,165.52 L335.98,165.46 L336.08,165.41 L336.19,165.37 L336.29,165.33 L336.4,165.31 L336.5,165.3 L336.6,165.29 L336.71,165.29 L336.81,165.31 L336.92,165.33 L337.02,165.36 L337.12,165.4 L337.23,165.45 L337.33,165.51 L337.44,165.58 L337.54,165.66 L337.64,165.74 L337.75,165.84 L337.85,165.95 L337.96,166.06 L338.06,166.18 L338.16,166.32 L338.27,166.46 L338.37,166.61 L338.48,166.78 L338.58,166.95 L338.68,167.13 L338.79,167.32 L338.89,167.52 L339,167.74 L339.1,167.96 L339.2,168.19 L339.31,168.43 L339.41,168.68 L339.52,168.94 L339.62,169.22 L339.72,169.5 L339.83,169.79 L339.93,170.1 L340.04,170.41 L340.14,170.74 L340.24,171.08 L340.35,171.43 L340.45,171.79 L340.56,172.16 L340.66,172.54 L340.76,172.94 L340.87,173.35 L340.97,173.77 L341.08,174.2 L341.18,174.64 L341.28,175.1 L341.39,175.57 L341.49,176.05 L341.6,176.55 L341.7,177.06 L341.8,177.59 L341.91,178.13 L342.01,178.68 L342.12,179.25 L342.22,179.83 L342.32,180.43 L342.43,181.04 L342.53,181.67 L342.64,182.32 L342.74,182.98 L342.84,183.66 L342.95,184.36 L343.05,185.07 L343.16,185.81 L343.26,186.56 L343.36,187.33 L343.47,188.13 L343.57,188.94 L343.68,189.77 L343.78,190.63 L343.88,191.51 L343.99,192.44 L344.09,193.39 L344.2,194.37 L344.3,195.37 L344.4,196.4 L344.51,197.46 L344.61,198.55 L344.72,199.67 L344.82,200.82 L344.92,202 L345.03,203.22 L345.13,204.47 L345.24,205.76 L345.34,207.08 L345.44,208.45 L345.55,209.86 L345.65,211.32 L345.76,212.82 L345.86,214.36 L345.96,215.97 L346.07,217.62 L346.17,219.33 L346.28,221.11 L346.38,222.95 L346.48,224.85 L346.59,226.8 L346.69,228.81 L346.8,230.91 L346.9,233.09 L347,235.37 L347.11,237.75 L347.21,240.24 L347.32,242.86 L347.42,245.61 L347.52,248.5 L347.63,251.57 L347.73,254.81 L347.84,258.25 L347.85,258.7 M351.06,258.7 L351.07,258.25 L351.17,254.81 L351.26,251.57 L351.36,248.5 L351.46,245.61 L351.56,242.86 L351.66,240.24 L351.75,237.75 L351.85,235.37 L351.95,233.09 L352.05,230.91 L352.15,228.81 L352.24,226.8 L352.34,224.85 L352.44,222.95 L352.54,221.11 L352.64,219.33 L352.73,217.62 L352.83,215.97 L352.93,214.36 L353.03,212.82 L353.13,211.32 L353.22,209.86 L353.32,208.45 L353.42,207.08 L353.52,205.76 L353.62,204.47 L353.71,203.22 L353.81,202 L353.91,200.82 L354.01,199.67 L354.11,198.55 L354.2,197.46 L354.3,196.4 L354.4,195.37 L354.5,194.37 L354.6,193.39 L354.69,192.44 L354.79,191.51 L354.89,190.63 L354.99,189.77 L355.09,188.94 L355.18,188.13 L355.28,187.33 L355.38,186.56 L355.48,185.81 L355.58,185.07 L355.67,184.36 L355.77,183.66 L355.87,182.98 L355.97,182.32 L356.07,181.67 L356.16,181.04 L356.26,180.43 L356.36,179.83 L356.46,179.25 L356.56,178.68 L356.65,178.13 L356.75,177.59 L356.85,177.06 L356.95,176.55 L357.05,176.05 L357.14,175.57 L357.24,175.1 L357.34,174.64 L357.44,174.2 L357.54,173.77 L357.63,173.35 L357.73,172.94 L357.83,172.54 L357.93,172.16 L358.03,171.79 L358.12,171.43 L358.22,171.08 L358.32,170.74 L358.42,170.41 L358.52,170.1 L358.61,169.79 L358.71,169.5 L358.81,169.22 L358.91,168.94 L359.01,168.68 L359.1,168.43 L359.2,168.19 L359.3,167.96 L359.4,167.74 L359.5,167.52 L359.59,167.32 L359.69,167.13 L359.79,166.95 L359.89,166.78 L359.99,166.61 L360.08,166.46 L360.18,166.32 L360.28,166.18 L360.38,166.06 L360.48,165.95 L360.57,165.84 L360.67,165.74 L360.77,165.66 L360.87,165.58 L360.97,165.51 L361.06,165.45 L361.16,165.4 L361.26,165.36 L361.36,165.33 L361.46,165.31 L361.55,165.29 L361.65,165.29 L361.75,165.3 L361.85,165.31 L361.95,165.33 L362.04,165.37 L362.14,165.41 L362.24,165.46 L362.34,165.52 L362.44,165.59 L362.53,165.66 L362.63,165.75 L362.73,165.85 L362.83,165.96 L362.93,166.07 L363.02,166.2 L363.12,166.33 L363.22,166.47 L363.32,166.63 L363.42,166.79 L363.51,166.96 L363.61,167.14 L363.71,167.33 L363.81,167.53 L363.91,167.74 L364,167.97 L364.1,168.2 L364.2,168.44 L364.3,168.69 L364.4,168.95 L364.49,169.22 L364.59,169.5 L364.69,169.79 L364.79,170.09 L364.89,170.41 L364.98,170.73 L365.08,171.07 L365.18,171.41 L365.28,171.77 L365.38,172.14 L365.47,172.52 L365.57,172.91 L365.67,173.31 L365.77,173.73 L365.87,174.15 L365.96,174.59 L366.06,175.04 L366.16,175.51 L366.26,175.98 L366.36,176.47 L366.45,176.98 L366.55,177.49 L366.65,178.02 L366.75,178.57 L366.85,179.12 L366.94,179.7 L367.04,180.28 L367.14,180.89 L367.24,181.5 L367.34,182.14 L367.43,182.79 L367.53,183.45 L367.63,184.13 L367.73,184.83 L367.83,185.55 L367.92,186.29 L368.02,187.04 L368.12,187.81 L368.22,188.6 L368.32,189.41 L368.41,190.25 L368.51,191.1 L368.61,191.99 L368.71,192.91 L368.81,193.86 L368.9,194.83 L369,195.83 L369.1,196.86 L369.2,197.91 L369.3,198.99 L369.39,200.09 L369.49,201.23 L369.59,202.4 L369.69,203.61 L369.79,204.84 L369.88,206.11 L369.98,207.42 L370.08,208.77 L370.18,210.16 L370.28,211.59 L370.37,213.06 L370.47,214.58 L370.57,216.15 L370.67,217.77 L370.77,219.44 L370.86,221.18 L370.96,222.97 L371.06,224.83 L371.16,226.73 L371.26,228.68 L371.35,230.71 L371.45,232.83 L371.55,235.03 L371.65,237.32 L371.75,239.72 L371.84,242.24 L371.94,244.87 L372.04,247.64 L372.14,250.56 L372.24,253.64 L372.33,256.9 L372.38,258.7 M375.7,258.7 L375.73,257.57 L375.84,254.35 L375.94,251.31 L376.04,248.43 L376.14,245.7 L376.24,243.1 L376.35,240.63 L376.45,238.27 L376.55,236.01 L376.65,233.85 L376.75,231.77 L376.86,229.78 L376.96,227.87 L377.06,226.03 L377.16,224.22 L377.26,222.47 L377.37,220.77 L377.47,219.14 L377.57,217.56 L377.67,216.03 L377.77,214.55 L377.88,213.12 L377.98,211.73 L378.08,210.38 L378.18,209.07 L378.28,207.81 L378.39,206.57 L378.49,205.38 L378.59,204.22 L378.69,203.09 L378.79,201.99 L378.9,200.92 L379,199.88 L379.1,198.87 L379.2,197.89 L379.3,196.93 L379.41,196 L379.51,195.09 L379.61,194.21 L379.71,193.34 L379.81,192.51 L379.92,191.69 L380.02,190.91 L380.12,190.16 L380.22,189.43 L380.32,188.71 L380.43,188.02 L380.53,187.34 L380.63,186.68 L380.73,186.03 L380.83,185.41 L380.94,184.8 L381.04,184.2 L381.14,183.63 L381.24,183.06 L381.34,182.52 L381.45,181.98 L381.55,181.46 L381.65,180.96 L381.75,180.47 L381.85,179.99 L381.96,179.53 L382.06,179.08 L382.16,178.64 L382.26,178.22 L382.36,177.8 L382.47,177.4 L382.57,177.02 L382.67,176.64 L382.77,176.28 L382.87,175.93 L382.98,175.59 L383.08,175.26 L383.18,174.94 L383.28,174.63 L383.38,174.34 L383.49,174.05 L383.59,173.78 L383.69,173.52 L383.79,173.26 L383.89,173.02 L384,172.79 L384.1,172.57 L384.2,172.36 L384.3,172.16 L384.4,171.97 L384.51,171.79 L384.61,171.61 L384.71,171.45 L384.81,171.3 L384.91,171.16 L385.02,171.03 L385.12,170.9 L385.22,170.79 L385.32,170.69 L385.42,170.59 L385.53,170.51 L385.63,170.43 L385.73,170.37 L385.83,170.31 L385.93,170.26 L386.04,170.22 L386.14,170.19 L386.24,170.17 L386.34,170.16 L386.44,170.16 L386.55,170.17 L386.65,170.18 L386.75,170.21 L386.85,170.24 L386.95,170.29 L387.06,170.34 L387.16,170.4 L387.26,170.47 L387.36,170.56 L387.46,170.64 L387.57,170.74 L387.67,170.85 L387.77,170.97 L387.87,171.1 L387.97,171.23 L388.08,171.38 L388.18,171.53 L388.28,171.7 L388.38,171.87 L388.48,172.05 L388.59,172.25 L388.69,172.45 L388.79,172.66 L388.89,172.88 L388.99,173.11 L389.1,173.36 L389.2,173.61 L389.3,173.87 L389.4,174.14 L389.5,174.42 L389.61,174.71 L389.71,175.02 L389.81,175.33 L389.91,175.65 L390.01,175.99 L390.12,176.33 L390.22,176.69 L390.32,177.05 L390.42,177.43 L390.52,177.82 L390.63,178.22 L390.73,178.63 L390.83,179.06 L390.93,179.49 L391.03,179.94 L391.14,180.4 L391.24,180.87 L391.34,181.36 L391.44,181.86 L391.54,182.37 L391.65,182.89 L391.75,183.43 L391.85,183.98 L391.95,184.55 L392.05,185.13 L392.16,185.72 L392.26,186.33 L392.36,186.95 L392.46,187.59 L392.56,188.24 L392.67,188.92 L392.77,189.6 L392.87,190.31 L392.97,191.03 L393.07,191.77 L393.18,192.55 L393.28,193.35 L393.38,194.17 L393.48,195.01 L393.58,195.86 L393.69,196.74 L393.79,197.64 L393.89,198.57 L393.99,199.51 L394.09,200.49 L394.2,201.48 L394.3,202.5 L394.4,203.55 L394.5,204.62 L394.6,205.72 L394.71,206.85 L394.81,208.01 L394.91,209.21 L395.01,210.43 L395.11,211.69 L395.22,212.98 L395.32,214.31 L395.42,215.68 L395.52,217.09 L395.62,218.54 L395.73,220.04 L395.83,221.58 L395.93,223.18 L396.03,224.82 L396.13,226.49 L396.24,228.21 L396.34,229.98 L396.44,231.82 L396.54,233.72 L396.64,235.7 L396.75,237.75 L396.85,239.88 L396.95,242.11 L397.05,244.43 L397.15,246.85 L397.26,249.39 L397.36,252.04 L397.46,254.83 L397.56,257.77 L397.59,258.7 M401.5,258.7 L401.58,256.52 L401.68,253.81 L401.79,251.24 L401.89,248.79 L402,246.45 L402.1,244.22 L402.2,242.08 L402.31,240.03 L402.41,238.06 L402.52,236.17 L402.62,234.35 L402.72,232.6 L402.83,230.91 L402.93,229.28 L403.04,227.7 L403.14,226.18 L403.24,224.69 L403.35,223.24 L403.45,221.83 L403.56,220.46 L403.66,219.14 L403.76,217.86 L403.87,216.61 L403.97,215.41 L404.08,214.23 L404.18,213.1 L404.28,211.99 L404.39,210.92 L404.49,209.87 L404.6,208.86 L404.7,207.87 L404.8,206.91 L404.91,205.98 L405.01,205.07 L405.12,204.18 L405.22,203.32 L405.32,202.49 L405.43,201.67 L405.53,200.88 L405.64,200.11 L405.74,199.36 L405.84,198.63 L405.95,197.92 L406.05,197.22 L406.16,196.55 L406.26,195.89 L406.36,195.25 L406.47,194.63 L406.57,194.03 L406.68,193.44 L406.78,192.87 L406.88,192.32 L406.99,191.77 L407.09,191.26 L407.2,190.76 L407.3,190.28 L407.4,189.81 L407.51,189.36 L407.61,188.92 L407.72,188.5 L407.82,188.08 L407.92,187.68 L408.03,187.29 L408.13,186.92 L408.24,186.55 L408.34,186.2 L408.44,185.86 L408.55,185.54 L408.65,185.22 L408.76,184.91 L408.86,184.62 L408.96,184.34 L409.07,184.07 L409.17,183.81 L409.28,183.56 L409.38,183.32 L409.48,183.09 L409.59,182.87 L409.69,182.67 L409.8,182.47 L409.9,182.28 L410,182.11 L410.11,181.94 L410.21,181.78 L410.32,181.64 L410.42,181.5 L410.52,181.37 L410.63,181.25 L410.73,181.15 L410.84,181.05 L410.94,180.96 L411.04,180.88 L411.15,180.81 L411.25,180.75 L411.36,180.7 L411.46,180.66 L411.56,180.62 L411.67,180.6 L411.77,180.59 L411.88,180.58 L411.98,180.59 L412.08,180.6 L412.19,180.62 L412.29,180.66 L412.4,180.7 L412.5,180.75 L412.6,180.81 L412.71,180.88 L412.81,180.95 L412.92,181.04 L413.02,181.14 L413.12,181.24 L413.23,181.36 L413.33,181.48 L413.44,181.62 L413.54,181.76 L413.64,181.91 L413.75,182.07 L413.85,182.24 L413.96,182.42 L414.06,182.61 L414.16,182.81 L414.27,183.02 L414.37,183.24 L414.48,183.46 L414.58,183.7 L414.68,183.95 L414.79,184.21 L414.89,184.47 L415,184.75 L415.1,185.04 L415.2,185.33 L415.31,185.64 L415.41,185.96 L415.52,186.29 L415.62,186.62 L415.72,186.97 L415.83,187.33 L415.93,187.7 L416.04,188.09 L416.14,188.48 L416.24,188.88 L416.35,189.3 L416.45,189.72 L416.56,190.16 L416.66,190.61 L416.76,191.07 L416.87,191.55 L416.97,192.05 L417.08,192.56 L417.18,193.09 L417.28,193.63 L417.39,194.18 L417.49,194.75 L417.6,195.33 L417.7,195.92 L417.8,196.53 L417.91,197.16 L418.01,197.79 L418.12,198.45 L418.22,199.12 L418.32,199.8 L418.43,200.5 L418.53,201.22 L418.64,201.96 L418.74,202.71 L418.84,203.48 L418.95,204.27 L419.05,205.07 L419.16,205.9 L419.26,206.74 L419.36,207.61 L419.47,208.49 L419.57,209.4 L419.68,210.33 L419.78,211.28 L419.88,212.25 L419.99,213.25 L420.09,214.27 L420.2,215.32 L420.3,216.4 L420.4,217.5 L420.51,218.63 L420.61,219.78 L420.72,220.97 L420.82,222.19 L420.92,223.44 L421.03,224.73 L421.13,226.04 L421.24,227.37 L421.34,228.73 L421.44,230.13 L421.55,231.58 L421.65,233.07 L421.76,234.6 L421.86,236.18 L421.96,237.81 L422.07,239.5 L422.17,241.24 L422.28,243.04 L422.38,244.91 L422.48,246.84 L422.59,248.84 L422.69,250.92 L422.8,253.08 L422.9,255.33 L423,257.68 L423.05,258.7 M428.01,258.7 L428.1,256.75 L428.2,254.72 L428.3,252.78 L428.4,250.92 L428.5,249.13 L428.6,247.41 L428.7,245.75 L428.8,244.15 L428.9,242.6 L429,241.11 L429.1,239.67 L429.2,238.28 L429.3,236.93 L429.4,235.63 L429.5,234.37 L429.6,233.14 L429.7,231.96 L429.8,230.81 L429.9,229.69 L430,228.61 L430.1,227.56 L430.2,226.54 L430.3,225.55 L430.4,224.57 L430.5,223.61 L430.6,222.68 L430.7,221.78 L430.8,220.9 L430.9,220.05 L431,219.22 L431.1,218.41 L431.2,217.63 L431.3,216.87 L431.4,216.13 L431.5,215.41 L431.6,214.71 L431.7,214.02 L431.8,213.36 L431.9,212.72 L432,212.1 L432.1,211.49 L432.2,210.9 L432.3,210.32 L432.4,209.77 L432.5,209.23 L432.6,208.7 L432.7,208.19 L432.8,207.7 L432.9,207.22 L433,206.76 L433.1,206.31 L433.2,205.87 L433.3,205.45 L433.4,205.04 L433.5,204.65 L433.6,204.27 L433.7,203.9 L433.8,203.54 L433.9,203.2 L434,202.87 L434.1,202.55 L434.2,202.25 L434.3,201.95 L434.4,201.67 L434.5,201.4 L434.6,201.14 L434.7,200.89 L434.8,200.66 L434.9,200.43 L435,200.22 L435.1,200.01 L435.2,199.82 L435.3,199.64 L435.4,199.47 L435.5,199.31 L435.6,199.16 L435.7,199.02 L435.8,198.89 L435.9,198.77 L436,198.66 L436.1,198.56 L436.2,198.47 L436.3,198.39 L436.4,198.33 L436.5,198.27 L436.6,198.22 L436.7,198.18 L436.8,198.15 L436.9,198.13 L437,198.12 L437.1,198.12 L437.2,198.13 L437.3,198.14 L437.4,198.17 L437.5,198.21 L437.6,198.26 L437.7,198.31 L437.8,198.38 L437.9,198.45 L438,198.54 L438.1,198.63 L438.2,198.74 L438.3,198.85 L438.4,198.97 L438.5,199.11 L438.6,199.25 L438.7,199.4 L438.8,199.56 L438.9,199.73 L439,199.91 L439.1,200.1 L439.2,200.3 L439.3,200.51 L439.4,200.73 L439.5,200.96 L439.6,201.2 L439.7,201.44 L439.8,201.7 L439.9,201.97 L440,202.25 L440.1,202.54 L440.2,202.84 L440.3,203.14 L440.4,203.46 L440.5,203.79 L440.6,204.13 L440.7,204.48 L440.8,204.84 L440.9,205.22 L441,205.6 L441.1,205.99 L441.2,206.4 L441.3,206.81 L441.4,207.24 L441.5,207.68 L441.6,208.13 L441.7,208.59 L441.8,209.06 L441.9,209.55 L442,210.05 L442.1,210.56 L442.2,211.08 L442.3,211.61 L442.4,212.16 L442.5,212.72 L442.6,213.3 L442.7,213.89 L442.8,214.49 L442.9,215.1 L443,215.73 L443.1,216.38 L443.2,217.03 L443.3,217.71 L443.4,218.4 L443.5,219.1 L443.6,219.82 L443.7,220.56 L443.8,221.31 L443.9,222.08 L444,222.87 L444.1,223.67 L444.2,224.5 L444.3,225.34 L444.4,226.18 L444.5,227.04 L444.6,227.92 L444.7,228.82 L444.8,229.74 L444.9,230.68 L445,231.64 L445.1,232.63 L445.2,233.64 L445.3,234.67 L445.4,235.73 L445.5,236.81 L445.6,237.92 L445.7,239.06 L445.8,240.23 L445.9,241.42 L446,242.65 L446.1,243.91 L446.2,245.2 L446.3,246.52 L446.4,247.89 L446.5,249.28 L446.6,250.72 L446.7,252.2 L446.8,253.73 L446.9,255.3 L447,256.91 L447.1,258.58 L447.11,258.7 M454.43,258.7 L454.5,257.87 L454.6,256.68 L454.7,255.53 L454.8,254.42 L454.9,253.35 L455,252.3 L455.1,251.29 L455.2,250.31 L455.3,249.36 L455.4,248.44 L455.5,247.54 L455.6,246.67 L455.7,245.83 L455.8,245.01 L455.9,244.22 L456,243.45 L456.1,242.7 L456.2,241.97 L456.3,241.27 L456.4,240.59 L456.5,239.92 L456.6,239.28 L456.7,238.65 L456.8,238.05 L456.9,237.46 L457,236.89 L457.1,236.33 L457.2,235.8 L457.3,235.28 L457.4,234.77 L457.5,234.28 L457.6,233.81 L457.7,233.35 L457.8,232.91 L457.9,232.48 L458,232.07 L458.1,231.67 L458.2,231.29 L458.3,230.92 L458.4,230.56 L458.5,230.21 L458.6,229.88 L458.7,229.56 L458.8,229.25 L458.9,228.96 L459,228.68 L459.1,228.41 L459.2,228.15 L459.3,227.9 L459.4,227.67 L459.5,227.44 L459.6,227.23 L459.7,227.03 L459.8,226.84 L459.9,226.66 L460,226.49 L460.1,226.33 L460.2,226.19 L460.3,226.05 L460.4,225.92 L460.5,225.81 L460.6,225.7 L460.7,225.61 L460.8,225.52 L460.9,225.45 L461,225.38 L461.1,225.32 L461.2,225.28 L461.3,225.24 L461.4,225.21 L461.5,225.2 L461.6,225.19 L461.7,225.19 L461.8,225.21 L461.9,225.23 L462,225.26 L462.1,225.3 L462.2,225.36 L462.3,225.42 L462.4,225.49 L462.5,225.57 L462.6,225.65 L462.7,225.75 L462.8,225.86 L462.9,225.97 L463,226.1 L463.1,226.23 L463.2,226.38 L463.3,226.53 L463.4,226.69 L463.5,226.86 L463.6,227.05 L463.7,227.24 L463.8,227.44 L463.9,227.64 L464,227.86 L464.1,228.09 L464.2,228.33 L464.3,228.58 L464.4,228.83 L464.5,229.1 L464.6,229.37 L464.7,229.66 L464.8,229.95 L464.9,230.26 L465,230.57 L465.1,230.9 L465.2,231.23 L465.3,231.58 L465.4,231.93 L465.5,232.3 L465.6,232.67 L465.7,233.06 L465.8,233.45 L465.9,233.86 L466,234.28 L466.1,234.71 L466.2,235.14 L466.3,235.59 L466.4,236.06 L466.5,236.53 L466.6,237.01 L466.7,237.51 L466.8,238.01 L466.9,238.53 L467,239.06 L467.1,239.6 L467.2,240.16 L467.3,240.72 L467.4,241.3 L467.5,241.89 L467.6,242.5 L467.7,243.12 L467.8,243.75 L467.9,244.4 L468,245.05 L468.1,245.73 L468.2,246.42 L468.3,247.12 L468.4,247.84 L468.5,248.57 L468.6,249.32 L468.7,250.08 L468.8,250.86 L468.9,251.66 L469,252.47 L469.1,253.3 L469.2,254.15 L469.3,255.02 L469.4,255.9 L469.5,256.81 L469.6,257.73 L469.7,258.68 L469.7,258.7" fill="none" stroke="#383838" stroke-width="0.95" stroke-linejoin="round"/>
<line x1="399.8" y1="80.2" x2="367.18" y2="95.84" stroke="#1a1a1a" stroke-width="1.7"/><polygon points="360.6,99 367.3,91.46 370.67,98.49" fill="#1a1a1a"/>
<line x1="422.2" y1="135.4" x2="412.51" y2="174.07" stroke="#1a1a1a" stroke-width="1.7"/><polygon points="411.1,179.7 408.53,171.02 417.46,173.25" fill="#1a1a1a"/>
<text x="365.2" y="75.9" font-size="11.5" text-anchor="start" font-weight="bold" fill="#1a1a1a" textLength="94.3" lengthAdjust="spacingAndGlyphs" >No Phase Switch</text>
<text x="386" y="109.9" font-size="11.5" text-anchor="start" font-weight="bold" fill="#1a1a1a" textLength="76" lengthAdjust="spacingAndGlyphs" >Phase Switch</text>
<text x="387" y="123" font-size="11.5" text-anchor="start" font-weight="bold" fill="#1a1a1a" textLength="70.5" lengthAdjust="spacingAndGlyphs" >@ 50% Point</text>
<text x="217.3" y="61.5" font-size="12.2" text-anchor="end" font-weight="normal" fill="#222" >0</text>
<text x="217.3" y="95.5" font-size="12.2" text-anchor="end" font-weight="normal" fill="#222" >–5</text>
<text x="217.3" y="129.4" font-size="12.2" text-anchor="end" font-weight="normal" fill="#222" >–10</text>
<text x="217.3" y="162.5" font-size="12.2" text-anchor="end" font-weight="normal" fill="#222" >–15</text>
<text x="217.3" y="195.5" font-size="12.2" text-anchor="end" font-weight="normal" fill="#222" >–20</text>
<text x="217.3" y="229.5" font-size="12.2" text-anchor="end" font-weight="normal" fill="#222" >–25</text>
<text x="217.3" y="262.7" font-size="12.2" text-anchor="end" font-weight="normal" fill="#222" >–30</text>
<text x="221.5" y="272.8" font-size="12.2" text-anchor="middle" font-weight="normal" fill="#222" >–10</text>
<text x="247.5" y="272.8" font-size="12.2" text-anchor="middle" font-weight="normal" fill="#222" >–8</text>
<text x="272" y="272.8" font-size="12.2" text-anchor="middle" font-weight="normal" fill="#222" >–6</text>
<text x="297.5" y="272.8" font-size="12.2" text-anchor="middle" font-weight="normal" fill="#222" >–4</text>
<text x="322.5" y="272.8" font-size="12.2" text-anchor="middle" font-weight="normal" fill="#222" >–2</text>
<text x="349.5" y="272.8" font-size="12.2" text-anchor="middle" font-weight="normal" fill="#222" >0</text>
<text x="374" y="272.8" font-size="12.2" text-anchor="middle" font-weight="normal" fill="#222" >2</text>
<text x="399.5" y="272.8" font-size="12.2" text-anchor="middle" font-weight="normal" fill="#222" >4</text>
<text x="425.5" y="272.8" font-size="12.2" text-anchor="middle" font-weight="normal" fill="#222" >6</text>
<text x="450.5" y="272.8" font-size="12.2" text-anchor="middle" font-weight="normal" fill="#222" >8</text>
<text x="476.5" y="272.8" font-size="12.2" text-anchor="middle" font-weight="normal" fill="#222" >10</text>
<text x="276.7" y="289" font-size="12.95" fill="#222">Normalized Frequency <tspan font-family="'Liberation Serif', serif" font-style="italic" font-size="14">Fτ</tspan></text>
<text x="321.5" y="307" font-size="12" fill="#222">(<tspan font-style="italic">a</tspan>)</text>
<text transform="translate(184.8,157.6) rotate(-90)" font-size="13.4" text-anchor="middle" fill="#222">Amplitude</text>
<line x1="203.5" y1="330" x2="203.5" y2="564.8" stroke="#2e2e2e" stroke-width="1.0"/>
<line x1="232.5" y1="330" x2="232.5" y2="564.8" stroke="#4a4a4a" stroke-width="1.0"/>
<line x1="260.9" y1="330" x2="260.9" y2="564.8" stroke="#7a7a7a" stroke-width="1.35"/>
<line x1="291.5" y1="330" x2="291.5" y2="564.8" stroke="#2e2e2e" stroke-width="1.0"/>
<line x1="320.6" y1="330" x2="320.6" y2="564.8" stroke="#4a4a4a" stroke-width="1.0"/>
<line x1="349.9" y1="330" x2="349.9" y2="564.8" stroke="#828282" stroke-width="1.45"/>
<line x1="379.5" y1="330" x2="379.5" y2="564.8" stroke="#4a4a4a" stroke-width="1.0"/>
<line x1="408.5" y1="330" x2="408.5" y2="564.8" stroke="#2e2e2e" stroke-width="1.0"/>
<line x1="438.5" y1="330" x2="438.5" y2="564.8" stroke="#5a5a5a" stroke-width="1.0"/>
<line x1="467.9" y1="330" x2="467.9" y2="564.8" stroke="#4a4a4a" stroke-width="1.0"/>
<line x1="497.5" y1="330" x2="497.5" y2="564.8" stroke="#2e2e2e" stroke-width="1.0"/>
<line x1="203" y1="330.5" x2="498" y2="330.5" stroke="#2e2e2e" stroke-width="1.0"/>
<line x1="203" y1="368.6" x2="498" y2="368.6" stroke="#858585" stroke-width="1.0"/>
<line x1="203" y1="408.3" x2="498" y2="408.3" stroke="#555" stroke-width="1.0"/>
<line x1="203" y1="447.5" x2="498" y2="447.5" stroke="#2e2e2e" stroke-width="1.0"/>
<line x1="203" y1="485.8" x2="498" y2="485.8" stroke="#585858" stroke-width="1.0"/>
<line x1="203" y1="525.5" x2="498" y2="525.5" stroke="#2e2e2e" stroke-width="1.0"/>
<line x1="203" y1="564.3" x2="498" y2="564.3" stroke="#2e2e2e" stroke-width="1.3"/>
<rect x="204.2" y="335.5" width="112.8" height="24" fill="#fff"/>
<rect x="316" y="341.5" width="12" height="17.5" fill="#fff"/>
<rect x="365.5" y="349.5" width="109" height="40" fill="#fff"/>
<path d="M203.5,532.1 L203.62,532.31 L203.73,532.52 L203.85,532.74 L203.96,532.96 L204.08,533.18 L204.2,533.41 L204.31,533.65 L204.43,533.89 L204.54,534.13 L204.66,534.39 L204.78,534.64 L204.89,534.91 L205.01,535.18 L205.12,535.46 L205.24,535.75 L205.36,536.05 L205.47,536.35 L205.59,536.67 L205.7,536.99 L205.82,537.33 L205.94,537.68 L206.05,538.03 L206.17,538.4 L206.28,538.79 L206.4,539.18 L206.52,539.59 L206.63,540.02 L206.75,540.45 L206.86,540.91 L206.98,541.38 L207.1,541.86 L207.21,542.37 L207.33,542.89 L207.44,543.43 L207.56,543.99 L207.68,544.57 L207.79,545.17 L207.91,545.8 L208.02,546.45 L208.14,547.12 L208.26,547.82 L208.37,548.54 L208.49,549.29 L208.6,550.07 L208.72,550.89 L208.84,551.73 L208.95,552.61 L209.07,553.52 L209.18,554.47 L209.3,555.45 L209.42,556.48 L209.53,557.55 L209.65,558.66 L209.76,559.82 L209.88,561.04 L210,562.3 L210.11,563.62 L210.17,564.3 M214.67,564.3 L214.75,563.55 L214.87,562.58 L214.98,561.64 L215.1,560.72 L215.22,559.83 L215.33,558.96 L215.45,558.12 L215.56,557.3 L215.68,556.51 L215.8,555.73 L215.91,554.98 L216.03,554.25 L216.14,553.54 L216.26,552.85 L216.38,552.18 L216.49,551.53 L216.61,550.9 L216.72,550.28 L216.84,549.69 L216.96,549.11 L217.07,548.55 L217.19,548 L217.3,547.47 L217.42,546.96 L217.54,546.46 L217.65,545.98 L217.77,545.51 L217.88,545.06 L218,544.62 L218.12,544.19 L218.23,543.78 L218.35,543.39 L218.46,543 L218.58,542.63 L218.7,542.28 L218.81,541.93 L218.93,541.6 L219.04,541.29 L219.16,540.98 L219.28,540.69 L219.39,540.41 L219.51,540.14 L219.62,539.88 L219.74,539.64 L219.86,539.41 L219.97,539.19 L220.09,538.98 L220.2,538.78 L220.32,538.6 L220.44,538.42 L220.55,538.26 L220.67,538.11 L220.78,537.96 L220.9,537.84 L221.02,537.72 L221.13,537.61 L221.25,537.51 L221.36,537.43 L221.48,537.35 L221.6,537.29 L221.71,537.24 L221.83,537.2 L221.94,537.17 L222.06,537.15 L222.18,537.14 L222.29,537.15 L222.41,537.17 L222.52,537.21 L222.64,537.28 L222.76,537.36 L222.87,537.46 L222.99,537.58 L223.1,537.71 L223.22,537.87 L223.34,538.04 L223.45,538.23 L223.57,538.44 L223.68,538.66 L223.8,538.91 L223.92,539.17 L224.03,539.45 L224.15,539.74 L224.26,540.05 L224.38,540.38 L224.5,540.73 L224.61,541.09 L224.73,541.47 L224.84,541.87 L224.96,542.29 L225.08,542.72 L225.19,543.17 L225.31,543.63 L225.42,544.12 L225.54,544.62 L225.66,545.13 L225.77,545.67 L225.89,546.22 L226,546.79 L226.12,547.38 L226.24,547.98 L226.35,548.6 L226.47,549.25 L226.58,549.9 L226.7,550.58 L226.82,551.28 L226.93,551.99 L227.05,552.72 L227.16,553.47 L227.28,554.24 L227.4,555.03 L227.51,555.84 L227.63,556.67 L227.74,557.52 L227.86,558.39 L227.98,559.28 L228.09,560.19 L228.21,561.12 L228.32,562.07 L228.44,563.05 L228.56,564.05 L228.58,564.3 M235.34,564.3 L235.34,564.3 L235.45,562.42 L235.57,560.61 L235.68,558.89 L235.79,557.23 L235.91,555.64 L236.02,554.11 L236.14,552.64 L236.25,551.22 L236.36,549.85 L236.48,548.53 L236.59,547.25 L236.7,546.01 L236.82,544.81 L236.93,543.64 L237.04,542.51 L237.16,541.41 L237.27,540.34 L237.38,539.3 L237.5,538.29 L237.61,537.3 L237.73,536.34 L237.84,535.4 L237.95,534.5 L238.07,533.61 L238.18,532.75 L238.29,531.92 L238.41,531.11 L238.52,530.32 L238.63,529.56 L238.75,528.81 L238.86,528.09 L238.98,527.39 L239.09,526.71 L239.2,526.02 L239.32,525.33 L239.43,524.62 L239.54,523.93 L239.66,523.24 L239.77,522.58 L239.88,521.93 L240,521.32 L240.11,520.74 L240.22,520.2 L240.34,519.7 L240.45,519.25 L240.57,518.85 L240.68,518.5 L240.79,518.21 L240.91,517.93 L241.02,517.66 L241.13,517.38 L241.25,517.12 L241.36,516.86 L241.47,516.6 L241.59,516.36 L241.7,516.12 L241.82,515.88 L241.93,515.66 L242.04,515.44 L242.16,515.24 L242.27,515.04 L242.38,514.86 L242.5,514.68 L242.61,514.52 L242.72,514.36 L242.84,514.22 L242.95,514.1 L243.06,513.98 L243.18,513.88 L243.29,513.79 L243.41,513.72 L243.52,513.67 L243.63,513.62 L243.75,513.6 L243.86,513.59 L243.97,513.6 L244.09,513.61 L244.2,513.64 L244.31,513.68 L244.43,513.72 L244.54,513.78 L244.66,513.85 L244.77,513.92 L244.88,514.01 L245,514.1 L245.11,514.21 L245.22,514.32 L245.34,514.44 L245.45,514.57 L245.56,514.71 L245.68,514.85 L245.79,515 L245.9,515.16 L246.02,515.33 L246.13,515.5 L246.25,515.69 L246.36,515.87 L246.47,516.07 L246.59,516.27 L246.7,516.47 L246.81,516.69 L246.93,516.9 L247.04,517.13 L247.15,517.36 L247.27,517.59 L247.38,517.83 L247.5,518.07 L247.61,518.32 L247.72,518.57 L247.84,518.82 L247.95,519.08 L248.06,519.36 L248.18,519.69 L248.29,520.08 L248.4,520.52 L248.52,521.02 L248.63,521.56 L248.74,522.16 L248.86,522.8 L248.97,523.49 L249.09,524.22 L249.2,525 L249.31,525.82 L249.43,526.66 L249.54,527.54 L249.65,528.46 L249.77,529.42 L249.88,530.41 L249.99,531.44 L250.11,532.5 L250.22,533.59 L250.34,534.7 L250.45,535.85 L250.56,537.01 L250.68,538.2 L250.79,539.42 L250.9,540.64 L251.02,541.88 L251.13,543.14 L251.24,544.4 L251.36,545.67 L251.47,546.93 L251.58,548.2 L251.7,549.45 L251.81,550.7 L251.93,551.92 L252.04,553.13 L252.15,554.3 L252.27,555.44 L252.38,556.54 L252.49,557.6 L252.61,558.65 L252.72,559.68 L252.83,560.7 L252.95,561.71 L253.06,562.74 L253.18,563.77 L253.23,564.3 M268.7,564.3 L268.73,563.9 L268.86,562.19 L268.98,560.33 L269.1,558.36 L269.22,556.3 L269.35,554.18 L269.47,552.02 L269.59,549.85 L269.71,547.68 L269.84,545.52 L269.96,543.41 L270.08,541.34 L270.2,539.33 L270.32,537.39 L270.45,535.52 L270.57,533.74 L270.69,532.05 L270.81,530.46 L270.94,528.98 L271.06,527.6 L271.18,526.34 L271.3,525.19 L271.43,524.15 L271.55,523.23 L271.67,522.38 L271.79,521.6 L271.92,520.86 L272.04,520.17 L272.16,519.51 L272.28,518.87 L272.41,518.24 L272.53,517.62 L272.65,516.99 L272.77,516.35 L272.9,515.69 L273.02,515 L273.14,514.29 L273.26,513.56 L273.38,512.82 L273.51,512.07 L273.63,511.31 L273.75,510.55 L273.87,509.78 L274,509.01 L274.12,508.25 L274.24,507.5 L274.36,506.75 L274.49,506.01 L274.61,505.28 L274.73,504.57 L274.85,503.87 L274.98,503.19 L275.1,502.53 L275.22,501.89 L275.34,501.27 L275.47,500.68 L275.59,500.11 L275.71,499.57 L275.83,499.06 L275.96,498.58 L276.08,498.13 L276.2,497.71 L276.32,497.31 L276.44,496.91 L276.57,496.5 L276.69,496.1 L276.81,495.69 L276.93,495.29 L277.06,494.89 L277.18,494.5 L277.3,494.11 L277.42,493.73 L277.55,493.36 L277.67,492.99 L277.79,492.64 L277.91,492.29 L278.04,491.96 L278.16,491.64 L278.28,491.33 L278.4,491.04 L278.53,490.77 L278.65,490.51 L278.77,490.26 L278.89,490.04 L279.02,489.83 L279.14,489.64 L279.26,489.48 L279.38,489.34 L279.5,489.21 L279.63,489.12 L279.75,489.04 L279.87,489 L279.99,488.98 L280.12,488.98 L280.24,489.02 L280.36,489.07 L280.48,489.15 L280.61,489.26 L280.73,489.39 L280.85,489.54 L280.97,489.71 L281.1,489.91 L281.22,490.12 L281.34,490.36 L281.46,490.61 L281.59,490.89 L281.71,491.18 L281.83,491.5 L281.95,491.83 L282.08,492.18 L282.2,492.54 L282.32,492.93 L282.44,493.33 L282.56,493.74 L282.69,494.17 L282.81,494.62 L282.93,495.07 L283.05,495.55 L283.18,496.03 L283.3,496.53 L283.42,497.05 L283.54,497.57 L283.67,498.1 L283.79,498.65 L283.91,499.21 L284.03,499.77 L284.16,500.35 L284.28,500.93 L284.4,501.52 L284.52,502.12 L284.65,502.72 L284.77,503.33 L284.89,503.94 L285.01,504.56 L285.14,505.18 L285.26,505.81 L285.38,506.46 L285.5,507.14 L285.62,507.86 L285.75,508.61 L285.87,509.4 L285.99,510.23 L286.11,511.1 L286.24,512.01 L286.36,512.96 L286.48,513.95 L286.6,514.99 L286.73,516.08 L286.85,517.21 L286.97,518.39 L287.09,519.63 L287.22,520.92 L287.34,522.27 L287.46,523.67 L287.58,525.15 L287.71,526.66 L287.83,528.23 L287.95,529.87 L288.07,531.59 L288.2,533.4 L288.32,535.37 L288.44,537.5 L288.56,539.8 L288.68,542.3 L288.81,545 L288.93,547.91 L289.05,551.07 L289.17,554.48 L289.3,558.17 L289.42,562.19 L289.48,564.3 M292.46,564.3 L292.55,559.01 L292.66,552.97 L292.78,547.5 L292.9,542.52 L293.01,537.99 L293.13,533.87 L293.25,530.11 L293.36,526.71 L293.48,523.59 L293.6,520.76 L293.71,518.23 L293.83,515.99 L293.94,514.03 L294.06,512.3 L294.18,510.65 L294.29,509.07 L294.41,507.56 L294.53,506.11 L294.64,504.73 L294.76,503.41 L294.88,502.15 L294.99,500.94 L295.11,499.79 L295.22,498.7 L295.34,497.65 L295.46,496.66 L295.57,495.72 L295.69,494.83 L295.81,493.99 L295.92,493.2 L296.04,492.46 L296.16,491.76 L296.27,491.11 L296.39,490.51 L296.51,489.95 L296.62,489.44 L296.74,488.98 L296.85,488.54 L296.97,488.1 L297.09,487.67 L297.2,487.25 L297.32,486.84 L297.44,486.43 L297.55,486.03 L297.67,485.64 L297.79,485.26 L297.9,484.89 L298.02,484.53 L298.13,484.18 L298.25,483.83 L298.37,483.49 L298.48,483.16 L298.6,482.83 L298.72,482.52 L298.83,482.21 L298.95,481.91 L299.07,481.62 L299.18,481.33 L299.3,481.06 L299.42,480.79 L299.53,480.53 L299.65,480.28 L299.76,480.04 L299.88,479.81 L300,479.59 L300.11,479.38 L300.23,479.18 L300.35,478.99 L300.46,478.8 L300.58,478.63 L300.7,478.47 L300.81,478.32 L300.93,478.18 L301.04,478.05 L301.16,477.93 L301.28,477.82 L301.39,477.72 L301.51,477.64 L301.63,477.56 L301.74,477.5 L301.86,477.45 L301.98,477.41 L302.09,477.39 L302.21,477.38 L302.33,477.38 L302.44,477.4 L302.56,477.44 L302.67,477.5 L302.79,477.58 L302.91,477.67 L303.02,477.79 L303.14,477.92 L303.26,478.07 L303.37,478.23 L303.49,478.41 L303.61,478.6 L303.72,478.8 L303.84,479.02 L303.95,479.25 L304.07,479.49 L304.19,479.74 L304.3,480 L304.42,480.27 L304.54,480.55 L304.65,480.84 L304.77,481.13 L304.89,481.44 L305,481.74 L305.12,482.06 L305.24,482.37 L305.35,482.69 L305.47,483.02 L305.58,483.34 L305.7,483.67 L305.82,484 L305.93,484.32 L306.05,484.65 L306.17,484.97 L306.28,485.29 L306.4,485.61 L306.52,485.93 L306.63,486.25 L306.75,486.56 L306.86,486.86 L306.98,487.15 L307.1,487.44 L307.21,487.71 L307.33,487.97 L307.45,488.22 L307.56,488.45 L307.68,488.67 L307.8,488.87 L307.91,489.05 L308.03,489.22 L308.15,489.36 L308.26,489.49 L308.38,489.59 L308.49,489.67 L308.61,489.73 L308.73,489.76 L308.84,489.77 L308.96,489.68 L309.08,489.49 L309.19,489.2 L309.31,488.82 L309.43,488.34 L309.54,487.78 L309.66,487.14 L309.77,486.43 L309.89,485.66 L310.01,484.86 L310.12,484.01 L310.24,483.11 L310.36,482.18 L310.47,481.21 L310.59,480.21 L310.71,479.19 L310.82,478.16 L310.94,477.11 L311.06,476.05 L311.17,474.98 L311.29,473.92 L311.4,472.86 L311.52,471.8 L311.64,470.75 L311.75,469.72 L311.87,468.7 L311.99,467.7 L312.1,466.72 L312.22,465.76 L312.34,464.82 L312.45,463.91 L312.57,463.04 L312.68,462.17 L312.8,461.27 L312.92,460.33 L313.03,459.37 L313.15,458.39 L313.27,457.39 L313.38,456.37 L313.5,455.34 L313.62,454.31 L313.73,453.26 L313.85,452.22 L313.97,451.17 L314.08,450.13 L314.2,449.09 L314.31,448.06 L314.43,447.03 L314.55,446 L314.66,444.98 L314.78,443.98 L314.9,443 L315.01,442.04 L315.13,441.09 L315.25,440.17 L315.36,439.27 L315.48,438.4 L315.59,437.55 L315.71,436.73 L315.83,435.94 L315.94,435.18 L316.06,434.45 L316.18,433.75 L316.29,433.08 L316.41,432.45 L316.53,431.83 L316.64,431.21 L316.76,430.59 L316.88,429.99 L316.99,429.39 L317.11,428.79 L317.22,428.21 L317.34,427.63 L317.46,427.06 L317.57,426.5 L317.69,425.95 L317.81,425.41 L317.92,424.88 L318.04,424.36 L318.16,423.85 L318.27,423.36 L318.39,422.88 L318.5,422.41 L318.62,421.95 L318.74,421.51 L318.85,421.09 L318.97,420.68 L319.09,420.28 L319.2,419.9 L319.32,419.53 L319.44,419.19 L319.55,418.86 L319.67,418.54 L319.79,418.25 L319.9,417.97 L320.02,417.71 L320.13,417.46 L320.25,417.21 L320.37,416.96 L320.48,416.71 L320.6,416.46 L320.72,416.21 L320.83,415.97 L320.95,415.73 L321.07,415.5 L321.19,415.26 L321.3,415.04 L321.42,414.81 L321.54,414.6 L321.65,414.39 L321.77,414.18 L321.89,413.99 L322.01,413.8 L322.12,413.62 L322.24,413.45 L322.36,413.29 L322.48,413.13 L322.59,412.99 L322.71,412.86 L322.83,412.74 L322.94,412.63 L323.06,412.53 L323.18,412.44 L323.3,412.37 L323.41,412.31 L323.53,412.27 L323.65,412.24 L323.76,412.22 L323.88,412.22 L324,412.25 L324.12,412.29 L324.23,412.35 L324.35,412.44 L324.47,412.55 L324.58,412.67 L324.7,412.81 L324.82,412.97 L324.94,413.15 L325.05,413.35 L325.17,413.56 L325.29,413.79 L325.41,414.03 L325.52,414.29 L325.64,414.56 L325.76,414.85 L325.87,415.15 L325.99,415.46 L326.11,415.78 L326.23,416.11 L326.34,416.46 L326.46,416.81 L326.58,417.18 L326.69,417.55 L326.81,417.94 L326.93,418.32 L327.05,418.72 L327.16,419.12 L327.28,419.53 L327.4,419.95 L327.51,420.37 L327.63,420.79 L327.75,421.21 L327.87,421.64 L327.98,422.07 L328.1,422.5 L328.22,422.93 L328.34,423.36 L328.45,423.81 L328.57,424.28 L328.69,424.78 L328.8,425.31 L328.92,425.86 L329.04,426.43 L329.16,427.03 L329.27,427.65 L329.39,428.29 L329.51,428.95 L329.62,429.64 L329.74,430.35 L329.86,431.09 L329.98,431.84 L330.09,432.62 L330.21,433.41 L330.33,434.23 L330.44,435.07 L330.56,435.92 L330.68,436.8 L330.8,437.7 L330.91,438.62 L331.03,439.55 L331.15,440.5 L331.27,441.47 L331.38,442.46 L331.5,443.46 L331.62,444.48 L331.73,445.52 L331.85,446.57 L331.97,447.63 L332.09,448.65 L332.2,449.65 L332.32,450.63 L332.44,451.61 L332.55,452.59 L332.67,453.59 L332.79,454.61 L332.91,455.68 L333.02,456.8 L333.14,457.99 L333.26,459.26 L333.37,460.64 L333.49,462.14 L333.61,463.78 L333.73,465.59 L333.84,467.59 L333.96,469.82 L334.08,472.3 L334.2,475.09 L334.31,478.68 L334.43,484.21 L334.55,492.03 L334.66,502.32 L334.78,515.49 L334.9,532.19 L335.02,553.74 L335.06,564.3 M335.92,564.3 L335.95,560.07 L336.07,548.82 L336.19,539.54 L336.3,531.67 L336.42,524.81 L336.54,518.59 L336.66,512.98 L336.77,507.85 L336.89,503.08 L337.01,498.6 L337.13,494.34 L337.24,490.25 L337.36,486.29 L337.48,482.6 L337.59,479.13 L337.71,475.85 L337.83,472.74 L337.95,469.79 L338.06,466.98 L338.18,464.3 L338.3,461.74 L338.41,459.29 L338.53,456.94 L338.65,454.69 L338.77,452.54 L338.88,450.46 L339,448.47 L339.12,446.52 L339.23,444.6 L339.35,442.73 L339.47,440.9 L339.59,439.11 L339.7,437.37 L339.82,435.67 L339.94,434.01 L340.06,432.4 L340.17,430.82 L340.29,429.29 L340.41,427.81 L340.52,426.36 L340.64,424.95 L340.76,423.58 L340.88,422.26 L340.99,420.97 L341.11,419.72 L341.23,418.51 L341.34,417.34 L341.46,416.21 L341.58,415.11 L341.7,414.06 L341.81,413.04 L341.93,412.06 L342.05,411.11 L342.16,410.2 L342.28,409.33 L342.4,408.5 L342.52,407.69 L342.63,406.88 L342.75,406.07 L342.87,405.26 L342.99,404.45 L343.1,403.66 L343.22,402.86 L343.34,402.07 L343.45,401.29 L343.57,400.51 L343.69,399.74 L343.81,398.98 L343.92,398.23 L344.04,397.48 L344.16,396.74 L344.27,396.01 L344.39,395.3 L344.51,394.59 L344.63,393.89 L344.74,393.2 L344.86,392.52 L344.98,391.85 L345.09,391.19 L345.21,390.55 L345.33,389.91 L345.45,389.29 L345.56,388.68 L345.68,388.09 L345.8,387.5 L345.92,386.93 L346.03,386.37 L346.15,385.82 L346.27,385.29 L346.38,384.77 L346.5,384.27 L346.62,383.78 L346.74,383.3 L346.85,382.84 L346.97,382.39 L347.09,381.96 L347.2,381.54 L347.32,381.13 L347.44,380.75 L347.56,380.37 L347.67,380.02 L347.79,379.68 L347.91,379.35 L348.02,379.04 L348.14,378.75 L348.26,378.48 L348.38,378.22 L348.49,377.98 L348.61,377.75 L348.73,377.55 L348.85,377.36 L348.96,377.19 L349.08,377.04 L349.2,376.91 L349.31,376.8 L349.43,376.71 L349.55,376.63 L349.67,376.58 L349.78,376.55 L349.9,376.54 L350.02,376.55 L350.14,376.58 L350.26,376.63 L350.37,376.71 L350.49,376.8 L350.61,376.91 L350.73,377.04 L350.85,377.19 L350.97,377.36 L351.08,377.55 L351.2,377.75 L351.32,377.98 L351.44,378.22 L351.56,378.48 L351.68,378.75 L351.79,379.04 L351.91,379.35 L352.03,379.68 L352.15,380.02 L352.27,380.37 L352.39,380.75 L352.5,381.13 L352.62,381.54 L352.74,381.96 L352.86,382.39 L352.98,382.84 L353.1,383.3 L353.22,383.78 L353.33,384.27 L353.45,384.77 L353.57,385.29 L353.69,385.82 L353.81,386.37 L353.93,386.93 L354.04,387.5 L354.16,388.09 L354.28,388.68 L354.4,389.29 L354.52,389.91 L354.64,390.55 L354.75,391.19 L354.87,391.85 L354.99,392.52 L355.11,393.2 L355.23,393.89 L355.35,394.59 L355.46,395.3 L355.58,396.01 L355.7,396.74 L355.82,397.48 L355.94,398.23 L356.06,398.98 L356.18,399.74 L356.29,400.51 L356.41,401.29 L356.53,402.07 L356.65,402.86 L356.77,403.66 L356.89,404.45 L357,405.26 L357.12,406.07 L357.24,406.88 L357.36,407.69 L357.48,408.5 L357.6,409.33 L357.71,410.2 L357.83,411.11 L357.95,412.06 L358.07,413.04 L358.19,414.06 L358.31,415.11 L358.42,416.21 L358.54,417.34 L358.66,418.51 L358.78,419.72 L358.9,420.97 L359.02,422.26 L359.14,423.58 L359.25,424.95 L359.37,426.36 L359.49,427.81 L359.61,429.29 L359.73,430.82 L359.85,432.4 L359.96,434.01 L360.08,435.67 L360.2,437.37 L360.32,439.11 L360.44,440.9 L360.56,442.73 L360.67,444.6 L360.79,446.52 L360.91,448.47 L361.03,450.46 L361.15,452.54 L361.27,454.69 L361.38,456.94 L361.5,459.29 L361.62,461.74 L361.74,464.3 L361.86,466.98 L361.98,469.79 L362.1,472.74 L362.21,475.85 L362.33,479.13 L362.45,482.6 L362.57,486.29 L362.69,490.25 L362.81,494.34 L362.92,498.6 L363.04,503.08 L363.16,507.85 L363.28,512.98 L363.4,518.59 L363.52,524.81 L363.63,531.67 L363.75,539.54 L363.87,548.82 L363.99,560.07 L364.02,564.3 M364.89,564.3 L364.94,553.74 L365.06,532.19 L365.17,515.49 L365.29,502.32 L365.41,492.03 L365.53,484.21 L365.65,478.68 L365.77,475.09 L365.88,472.3 L366,469.82 L366.12,467.59 L366.24,465.59 L366.36,463.78 L366.48,462.14 L366.59,460.64 L366.71,459.26 L366.83,457.99 L366.95,456.8 L367.07,455.68 L367.19,454.61 L367.3,453.59 L367.42,452.59 L367.54,451.61 L367.66,450.63 L367.78,449.65 L367.9,448.65 L368.02,447.63 L368.13,446.57 L368.25,445.52 L368.37,444.48 L368.49,443.46 L368.61,442.46 L368.73,441.47 L368.84,440.5 L368.96,439.55 L369.08,438.62 L369.2,437.7 L369.32,436.8 L369.44,435.92 L369.55,435.07 L369.67,434.23 L369.79,433.41 L369.91,432.62 L370.03,431.84 L370.15,431.09 L370.26,430.35 L370.38,429.64 L370.5,428.95 L370.62,428.29 L370.74,427.65 L370.86,427.03 L370.98,426.43 L371.09,425.86 L371.21,425.31 L371.33,424.78 L371.45,424.28 L371.57,423.81 L371.69,423.36 L371.8,422.93 L371.92,422.5 L372.04,422.07 L372.16,421.64 L372.28,421.21 L372.4,420.79 L372.51,420.37 L372.63,419.95 L372.75,419.53 L372.87,419.12 L372.99,418.72 L373.11,418.32 L373.22,417.94 L373.34,417.55 L373.46,417.18 L373.58,416.81 L373.7,416.46 L373.82,416.11 L373.94,415.78 L374.05,415.46 L374.17,415.15 L374.29,414.85 L374.41,414.56 L374.53,414.29 L374.65,414.03 L374.76,413.79 L374.88,413.56 L375,413.35 L375.12,413.15 L375.24,412.97 L375.36,412.81 L375.47,412.67 L375.59,412.55 L375.71,412.44 L375.83,412.35 L375.95,412.29 L376.07,412.25 L376.18,412.22 L376.3,412.22 L376.42,412.24 L376.54,412.27 L376.66,412.31 L376.78,412.37 L376.9,412.44 L377.01,412.53 L377.13,412.63 L377.25,412.74 L377.37,412.86 L377.49,412.99 L377.61,413.13 L377.72,413.29 L377.84,413.45 L377.96,413.62 L378.08,413.8 L378.2,413.99 L378.32,414.18 L378.43,414.39 L378.55,414.6 L378.67,414.81 L378.79,415.04 L378.91,415.26 L379.03,415.5 L379.14,415.73 L379.26,415.97 L379.38,416.21 L379.5,416.46 L379.62,416.71 L379.73,416.96 L379.85,417.21 L379.96,417.46 L380.08,417.71 L380.2,417.97 L380.31,418.25 L380.43,418.54 L380.54,418.86 L380.66,419.19 L380.78,419.53 L380.89,419.9 L381.01,420.28 L381.12,420.68 L381.24,421.09 L381.36,421.51 L381.47,421.95 L381.59,422.41 L381.7,422.88 L381.82,423.36 L381.94,423.85 L382.05,424.36 L382.17,424.88 L382.28,425.41 L382.4,425.95 L382.52,426.5 L382.63,427.06 L382.75,427.63 L382.86,428.21 L382.98,428.79 L383.1,429.39 L383.21,429.99 L383.33,430.59 L383.44,431.21 L383.56,431.83 L383.68,432.45 L383.79,433.08 L383.91,433.75 L384.02,434.45 L384.14,435.18 L384.26,435.94 L384.37,436.73 L384.49,437.55 L384.6,438.4 L384.72,439.27 L384.84,440.17 L384.95,441.09 L385.07,442.04 L385.18,443 L385.3,443.98 L385.42,444.98 L385.53,446 L385.65,447.03 L385.76,448.06 L385.88,449.09 L386,450.13 L386.11,451.17 L386.23,452.22 L386.34,453.26 L386.46,454.31 L386.58,455.34 L386.69,456.37 L386.81,457.39 L386.92,458.39 L387.04,459.37 L387.16,460.33 L387.27,461.27 L387.39,462.17 L387.5,463.04 L387.62,463.91 L387.74,464.82 L387.85,465.76 L387.97,466.72 L388.08,467.7 L388.2,468.7 L388.32,469.72 L388.43,470.75 L388.55,471.8 L388.66,472.86 L388.78,473.92 L388.9,474.98 L389.01,476.05 L389.13,477.11 L389.24,478.16 L389.36,479.19 L389.48,480.21 L389.59,481.21 L389.71,482.18 L389.82,483.11 L389.94,484.01 L390.06,484.86 L390.17,485.66 L390.29,486.43 L390.4,487.14 L390.52,487.78 L390.64,488.34 L390.75,488.82 L390.87,489.2 L390.98,489.49 L391.1,489.68 L391.22,489.77 L391.33,489.76 L391.45,489.73 L391.56,489.67 L391.68,489.59 L391.8,489.49 L391.91,489.36 L392.03,489.22 L392.14,489.05 L392.26,488.87 L392.38,488.67 L392.49,488.45 L392.61,488.22 L392.72,487.97 L392.84,487.71 L392.96,487.44 L393.07,487.15 L393.19,486.86 L393.3,486.56 L393.42,486.25 L393.54,485.93 L393.65,485.61 L393.77,485.29 L393.88,484.97 L394,484.65 L394.12,484.32 L394.23,484 L394.35,483.67 L394.46,483.34 L394.58,483.02 L394.7,482.69 L394.81,482.37 L394.93,482.06 L395.04,481.74 L395.16,481.44 L395.28,481.13 L395.39,480.84 L395.51,480.55 L395.62,480.27 L395.74,480 L395.86,479.74 L395.97,479.49 L396.09,479.25 L396.2,479.02 L396.32,478.8 L396.44,478.6 L396.55,478.41 L396.67,478.23 L396.78,478.07 L396.9,477.92 L397.02,477.79 L397.13,477.67 L397.25,477.58 L397.36,477.5 L397.48,477.44 L397.6,477.4 L397.71,477.38 L397.83,477.38 L397.94,477.39 L398.06,477.41 L398.18,477.45 L398.29,477.5 L398.41,477.56 L398.52,477.64 L398.64,477.72 L398.76,477.82 L398.87,477.93 L398.99,478.05 L399.1,478.18 L399.22,478.32 L399.34,478.47 L399.45,478.63 L399.57,478.8 L399.68,478.99 L399.8,479.18 L399.92,479.38 L400.03,479.59 L400.15,479.81 L400.26,480.04 L400.38,480.28 L400.5,480.53 L400.61,480.79 L400.73,481.06 L400.84,481.33 L400.96,481.62 L401.08,481.91 L401.19,482.21 L401.31,482.52 L401.42,482.83 L401.54,483.16 L401.66,483.49 L401.77,483.83 L401.89,484.18 L402,484.53 L402.12,484.89 L402.24,485.26 L402.35,485.64 L402.47,486.03 L402.58,486.43 L402.7,486.84 L402.82,487.25 L402.93,487.67 L403.05,488.1 L403.16,488.54 L403.28,488.98 L403.4,489.44 L403.51,489.95 L403.63,490.51 L403.74,491.11 L403.86,491.76 L403.98,492.46 L404.09,493.2 L404.21,493.99 L404.32,494.83 L404.44,495.72 L404.56,496.66 L404.67,497.65 L404.79,498.7 L404.9,499.79 L405.02,500.94 L405.14,502.15 L405.25,503.41 L405.37,504.73 L405.48,506.11 L405.6,507.56 L405.72,509.07 L405.83,510.65 L405.95,512.3 L406.06,514.03 L406.18,515.99 L406.3,518.23 L406.41,520.76 L406.53,523.59 L406.64,526.71 L406.76,530.11 L406.88,533.87 L406.99,537.99 L407.11,542.52 L407.22,547.5 L407.34,552.97 L407.46,559.01 L407.55,564.3 M410.48,564.3 L410.54,562.19 L410.66,558.17 L410.78,554.48 L410.9,551.07 L411.02,547.91 L411.14,545 L411.26,542.3 L411.38,539.8 L411.5,537.5 L411.62,535.37 L411.74,533.4 L411.86,531.59 L411.98,529.87 L412.1,528.23 L412.22,526.66 L412.34,525.15 L412.46,523.67 L412.58,522.27 L412.7,520.92 L412.82,519.63 L412.94,518.39 L413.06,517.21 L413.18,516.08 L413.3,514.99 L413.42,513.95 L413.54,512.96 L413.66,512.01 L413.78,511.1 L413.9,510.23 L414.02,509.4 L414.14,508.61 L414.26,507.86 L414.38,507.14 L414.5,506.46 L414.62,505.81 L414.74,505.18 L414.86,504.56 L414.98,503.94 L415.1,503.33 L415.22,502.72 L415.34,502.12 L415.46,501.52 L415.58,500.93 L415.7,500.35 L415.82,499.77 L415.94,499.21 L416.06,498.65 L416.18,498.1 L416.3,497.57 L416.42,497.05 L416.54,496.53 L416.66,496.03 L416.78,495.55 L416.9,495.07 L417.02,494.62 L417.14,494.17 L417.26,493.74 L417.38,493.33 L417.5,492.93 L417.62,492.54 L417.74,492.18 L417.86,491.83 L417.98,491.5 L418.1,491.18 L418.22,490.89 L418.34,490.61 L418.46,490.36 L418.58,490.12 L418.7,489.91 L418.82,489.71 L418.94,489.54 L419.06,489.39 L419.18,489.26 L419.3,489.15 L419.42,489.07 L419.54,489.02 L419.66,488.98 L419.78,488.98 L419.9,489 L420.02,489.04 L420.14,489.12 L420.26,489.21 L420.38,489.34 L420.5,489.48 L420.62,489.64 L420.74,489.83 L420.86,490.04 L420.98,490.26 L421.1,490.51 L421.22,490.77 L421.34,491.04 L421.46,491.33 L421.58,491.64 L421.7,491.96 L421.82,492.29 L421.94,492.64 L422.06,492.99 L422.18,493.36 L422.3,493.73 L422.42,494.11 L422.54,494.5 L422.66,494.89 L422.78,495.29 L422.9,495.69 L423.02,496.1 L423.14,496.5 L423.26,496.91 L423.38,497.31 L423.5,497.71 L423.62,498.13 L423.74,498.58 L423.86,499.06 L423.98,499.57 L424.1,500.11 L424.22,500.68 L424.34,501.27 L424.46,501.89 L424.58,502.53 L424.7,503.19 L424.82,503.87 L424.94,504.57 L425.06,505.28 L425.18,506.01 L425.3,506.75 L425.42,507.5 L425.54,508.25 L425.66,509.01 L425.78,509.78 L425.9,510.55 L426.02,511.31 L426.14,512.07 L426.26,512.82 L426.38,513.56 L426.5,514.29 L426.62,515 L426.74,515.69 L426.86,516.35 L426.98,516.99 L427.1,517.62 L427.22,518.24 L427.34,518.87 L427.46,519.51 L427.58,520.17 L427.7,520.86 L427.82,521.6 L427.94,522.38 L428.06,523.23 L428.18,524.15 L428.3,525.19 L428.42,526.34 L428.54,527.6 L428.66,528.98 L428.78,530.46 L428.9,532.05 L429.02,533.74 L429.14,535.52 L429.26,537.39 L429.38,539.33 L429.5,541.34 L429.62,543.41 L429.74,545.52 L429.86,547.68 L429.98,549.85 L430.1,552.02 L430.22,554.18 L430.34,556.3 L430.46,558.36 L430.58,560.33 L430.7,562.19 L430.82,563.9 L430.85,564.3 M446.44,564.3 L446.5,563.77 L446.61,562.74 L446.73,561.71 L446.85,560.7 L446.97,559.68 L447.08,558.65 L447.2,557.6 L447.32,556.54 L447.44,555.44 L447.56,554.3 L447.67,553.13 L447.79,551.92 L447.91,550.7 L448.03,549.45 L448.14,548.2 L448.26,546.93 L448.38,545.67 L448.5,544.4 L448.61,543.14 L448.73,541.88 L448.85,540.64 L448.97,539.42 L449.08,538.2 L449.2,537.01 L449.32,535.85 L449.44,534.7 L449.55,533.59 L449.67,532.5 L449.79,531.44 L449.91,530.41 L450.02,529.42 L450.14,528.46 L450.26,527.54 L450.38,526.66 L450.5,525.82 L450.61,525 L450.73,524.22 L450.85,523.49 L450.97,522.8 L451.08,522.16 L451.2,521.56 L451.32,521.02 L451.44,520.52 L451.55,520.08 L451.67,519.69 L451.79,519.36 L451.91,519.08 L452.02,518.82 L452.14,518.57 L452.26,518.32 L452.38,518.07 L452.49,517.83 L452.61,517.59 L452.73,517.36 L452.85,517.13 L452.96,516.9 L453.08,516.69 L453.2,516.47 L453.32,516.27 L453.44,516.07 L453.55,515.87 L453.67,515.69 L453.79,515.5 L453.91,515.33 L454.02,515.16 L454.14,515 L454.26,514.85 L454.38,514.71 L454.49,514.57 L454.61,514.44 L454.73,514.32 L454.85,514.21 L454.96,514.1 L455.08,514.01 L455.2,513.92 L455.32,513.85 L455.43,513.78 L455.55,513.72 L455.67,513.68 L455.79,513.64 L455.9,513.61 L456.02,513.6 L456.14,513.59 L456.26,513.6 L456.38,513.62 L456.49,513.67 L456.61,513.72 L456.73,513.79 L456.85,513.88 L456.96,513.98 L457.08,514.1 L457.2,514.22 L457.32,514.36 L457.43,514.52 L457.55,514.68 L457.67,514.86 L457.79,515.04 L457.9,515.24 L458.02,515.44 L458.14,515.66 L458.26,515.88 L458.37,516.12 L458.49,516.36 L458.61,516.6 L458.73,516.86 L458.84,517.12 L458.96,517.38 L459.08,517.66 L459.2,517.93 L459.32,518.21 L459.43,518.5 L459.55,518.85 L459.67,519.25 L459.79,519.7 L459.9,520.2 L460.02,520.74 L460.14,521.32 L460.26,521.93 L460.37,522.58 L460.49,523.24 L460.61,523.93 L460.73,524.62 L460.84,525.33 L460.96,526.02 L461.08,526.71 L461.2,527.39 L461.31,528.09 L461.43,528.81 L461.55,529.56 L461.67,530.32 L461.78,531.11 L461.9,531.92 L462.02,532.75 L462.14,533.61 L462.26,534.5 L462.37,535.4 L462.49,536.34 L462.61,537.3 L462.73,538.29 L462.84,539.3 L462.96,540.34 L463.08,541.41 L463.2,542.51 L463.31,543.64 L463.43,544.81 L463.55,546.01 L463.67,547.25 L463.78,548.53 L463.9,549.85 L464.02,551.22 L464.14,552.64 L464.25,554.11 L464.37,555.64 L464.49,557.23 L464.61,558.89 L464.72,560.61 L464.84,562.42 L464.96,564.3 M471.9,564.3 L471.93,564.05 L472.04,563.05 L472.16,562.07 L472.28,561.12 L472.4,560.19 L472.52,559.28 L472.64,558.39 L472.75,557.52 L472.87,556.67 L472.99,555.84 L473.11,555.03 L473.23,554.24 L473.35,553.47 L473.46,552.72 L473.58,551.99 L473.7,551.28 L473.82,550.58 L473.94,549.9 L474.06,549.25 L474.18,548.6 L474.29,547.98 L474.41,547.38 L474.53,546.79 L474.65,546.22 L474.77,545.67 L474.89,545.13 L475,544.62 L475.12,544.12 L475.24,543.63 L475.36,543.17 L475.48,542.72 L475.6,542.29 L475.71,541.87 L475.83,541.47 L475.95,541.09 L476.07,540.73 L476.19,540.38 L476.31,540.05 L476.42,539.74 L476.54,539.45 L476.66,539.17 L476.78,538.91 L476.9,538.66 L477.02,538.44 L477.14,538.23 L477.25,538.04 L477.37,537.87 L477.49,537.71 L477.61,537.58 L477.73,537.46 L477.85,537.36 L477.96,537.28 L478.08,537.21 L478.2,537.17 L478.32,537.15 L478.44,537.14 L478.56,537.15 L478.67,537.17 L478.79,537.2 L478.91,537.24 L479.03,537.29 L479.15,537.35 L479.27,537.43 L479.38,537.51 L479.5,537.61 L479.62,537.72 L479.74,537.84 L479.86,537.96 L479.98,538.11 L480.1,538.26 L480.21,538.42 L480.33,538.6 L480.45,538.78 L480.57,538.98 L480.69,539.19 L480.81,539.41 L480.92,539.64 L481.04,539.88 L481.16,540.14 L481.28,540.41 L481.4,540.69 L481.52,540.98 L481.63,541.29 L481.75,541.6 L481.87,541.93 L481.99,542.28 L482.11,542.63 L482.23,543 L482.34,543.39 L482.46,543.78 L482.58,544.19 L482.7,544.62 L482.82,545.06 L482.94,545.51 L483.06,545.98 L483.17,546.46 L483.29,546.96 L483.41,547.47 L483.53,548 L483.65,548.55 L483.77,549.11 L483.88,549.69 L484,550.28 L484.12,550.9 L484.24,551.53 L484.36,552.18 L484.48,552.85 L484.59,553.54 L484.71,554.25 L484.83,554.98 L484.95,555.73 L485.07,556.51 L485.19,557.3 L485.3,558.12 L485.42,558.96 L485.54,559.83 L485.66,560.72 L485.78,561.64 L485.9,562.58 L486.02,563.55 L486.1,564.3 M490.7,564.3 L490.75,563.62 L490.87,562.3 L490.99,561.04 L491.11,559.82 L491.22,558.66 L491.34,557.55 L491.46,556.48 L491.58,555.45 L491.7,554.47 L491.82,553.52 L491.94,552.61 L492.05,551.73 L492.17,550.89 L492.29,550.07 L492.41,549.29 L492.53,548.54 L492.65,547.82 L492.76,547.12 L492.88,546.45 L493,545.8 L493.12,545.17 L493.24,544.57 L493.36,543.99 L493.47,543.43 L493.59,542.89 L493.71,542.37 L493.83,541.86 L493.95,541.38 L494.07,540.91 L494.18,540.45 L494.3,540.02 L494.42,539.59 L494.54,539.18 L494.66,538.79 L494.78,538.4 L494.9,538.03 L495.01,537.68 L495.13,537.33 L495.25,536.99 L495.37,536.67 L495.49,536.35 L495.61,536.05 L495.72,535.75 L495.84,535.46 L495.96,535.18 L496.08,534.91 L496.2,534.64 L496.32,534.39 L496.43,534.13 L496.55,533.89 L496.67,533.65 L496.79,533.41 L496.91,533.18 L497.03,532.96 L497.14,532.74 L497.26,532.52 L497.38,532.31 L497.5,532.1" fill="none" stroke="#888888" stroke-width="1.3" stroke-linejoin="round"/>
<path d="M209.34,564.3 L209.42,563.91 L209.53,563.37 L209.65,562.88 L209.76,562.43 L209.88,562.03 L210,561.67 L210.11,561.36 L210.23,561.09 L210.34,560.86 L210.46,560.68 L210.58,560.53 L210.69,560.43 L210.81,560.38 L210.92,560.36 L211.04,560.39 L211.16,560.46 L211.27,560.58 L211.39,560.73 L211.5,560.93 L211.62,561.18 L211.74,561.47 L211.85,561.8 L211.97,562.18 L212.08,562.6 L212.2,563.07 L212.32,563.59 L212.43,564.15 L212.46,564.3 M488.35,564.3 L488.38,564.15 L488.5,563.59 L488.62,563.07 L488.74,562.6 L488.86,562.18 L488.98,561.8 L489.09,561.47 L489.21,561.18 L489.33,560.93 L489.45,560.73 L489.57,560.58 L489.69,560.46 L489.8,560.39 L489.92,560.36 L490.04,560.38 L490.16,560.43 L490.28,560.53 L490.4,560.68 L490.51,560.86 L490.63,561.09 L490.75,561.36 L490.87,561.67 L490.99,562.03 L491.11,562.43 L491.22,562.88 L491.34,563.37 L491.46,563.91 L491.54,564.3" fill="none" stroke="#9a9a9a" stroke-width="0.9" stroke-linejoin="round"/>
<path d="M222.79,564.3 L222.87,563.56 L222.99,562.57 L223.1,561.63 L223.22,560.75 L223.34,559.91 L223.45,559.13 L223.57,558.4 L223.68,557.71 L223.8,557.07 L223.92,556.48 L224.03,555.94 L224.15,555.44 L224.26,554.99 L224.38,554.58 L224.5,554.22 L224.61,553.9 L224.73,553.62 L224.84,553.39 L224.96,553.2 L225.08,553.05 L225.19,552.94 L225.31,552.88 L225.42,552.86 L225.54,552.88 L225.66,552.94 L225.77,553.05 L225.89,553.2 L226,553.39 L226.12,553.63 L226.24,553.91 L226.35,554.24 L226.47,554.61 L226.58,555.03 L226.7,555.49 L226.82,556 L226.93,556.56 L227.05,557.16 L227.16,557.82 L227.28,558.53 L227.4,559.28 L227.51,560.1 L227.63,560.96 L227.74,561.89 L227.86,562.87 L227.98,563.91 L228.02,564.3 M236.45,564.3 L236.48,563.99 L236.59,562.55 L236.7,561.18 L236.82,559.88 L236.93,558.65 L237.04,557.47 L237.16,556.36 L237.27,555.3 L237.38,554.3 L237.5,553.35 L237.61,552.45 L237.73,551.61 L237.84,550.82 L237.95,550.08 L238.07,549.39 L238.18,548.74 L238.29,548.14 L238.41,547.59 L238.52,547.09 L238.63,546.63 L238.75,546.21 L238.86,545.84 L238.98,545.51 L239.09,545.22 L239.2,544.98 L239.32,544.78 L239.43,544.62 L239.54,544.51 L239.66,544.44 L239.77,544.41 L239.88,544.42 L240,544.48 L240.11,544.57 L240.22,544.72 L240.34,544.9 L240.45,545.13 L240.57,545.4 L240.68,545.72 L240.79,546.08 L240.91,546.49 L241.02,546.94 L241.13,547.45 L241.25,547.99 L241.36,548.59 L241.47,549.24 L241.59,549.94 L241.7,550.69 L241.82,551.49 L241.93,552.35 L242.04,553.26 L242.16,554.24 L242.27,555.27 L242.38,556.36 L242.5,557.52 L242.61,558.74 L242.72,560.03 L242.84,561.4 L242.95,562.83 L243.06,564.3 M250.03,564.3 L250.11,563.01 L250.22,561.17 L250.34,559.42 L250.45,557.75 L250.56,556.16 L250.68,554.64 L250.79,553.19 L250.9,551.81 L251.02,550.5 L251.13,549.25 L251.24,548.07 L251.36,546.94 L251.47,545.87 L251.58,544.86 L251.7,543.9 L251.81,543 L251.93,542.15 L252.04,541.34 L252.15,540.59 L252.27,539.89 L252.38,539.23 L252.49,538.62 L252.61,538.06 L252.72,537.55 L252.83,537.07 L252.95,536.65 L253.06,536.26 L253.18,535.92 L253.29,535.63 L253.4,535.37 L253.52,535.16 L253.63,534.99 L253.74,534.87 L253.86,534.79 L253.97,534.75 L254.08,534.75 L254.2,534.79 L254.31,534.88 L254.42,535.01 L254.54,535.18 L254.65,535.4 L254.77,535.66 L254.88,535.97 L254.99,536.32 L255.11,536.72 L255.22,537.16 L255.33,537.65 L255.45,538.19 L255.56,538.77 L255.67,539.41 L255.79,540.1 L255.9,540.83 L256.02,541.63 L256.13,542.47 L256.24,543.37 L256.36,544.33 L256.47,545.35 L256.58,546.44 L256.7,547.58 L256.81,548.79 L256.92,550.07 L257.04,551.42 L257.15,552.85 L257.26,554.36 L257.38,555.94 L257.49,557.62 L257.61,559.38 L257.72,561.24 L257.83,563.2 L257.89,564.3 M263.89,564.3 L263.96,562.96 L264.08,560.59 L264.2,558.35 L264.33,556.2 L264.45,554.16 L264.57,552.22 L264.69,550.37 L264.82,548.6 L264.94,546.92 L265.06,545.31 L265.18,543.78 L265.31,542.32 L265.43,540.93 L265.55,539.6 L265.67,538.34 L265.8,537.14 L265.92,536 L266.04,534.91 L266.16,533.89 L266.29,532.92 L266.41,532 L266.53,531.13 L266.65,530.31 L266.78,529.55 L266.9,528.83 L267.02,528.16 L267.14,527.54 L267.26,526.96 L267.39,526.43 L267.51,525.94 L267.63,525.5 L267.75,525.09 L267.88,524.73 L268,524.41 L268.12,524.13 L268.24,523.9 L268.37,523.72 L268.49,523.57 L268.61,523.47 L268.73,523.42 L268.86,523.4 L268.98,523.43 L269.1,523.51 L269.22,523.62 L269.35,523.79 L269.47,523.99 L269.59,524.24 L269.71,524.54 L269.84,524.89 L269.96,525.28 L270.08,525.71 L270.2,526.18 L270.32,526.7 L270.45,527.27 L270.57,527.89 L270.69,528.57 L270.81,529.29 L270.94,530.06 L271.06,530.89 L271.18,531.78 L271.3,532.72 L271.43,533.73 L271.55,534.79 L271.67,535.92 L271.79,537.12 L271.92,538.38 L272.04,539.72 L272.16,541.13 L272.28,542.62 L272.41,544.19 L272.53,545.84 L272.65,547.59 L272.77,549.43 L272.9,551.38 L273.02,553.43 L273.14,555.6 L273.26,557.89 L273.38,560.31 L273.51,562.88 L273.57,564.3 M278.64,564.3 L278.65,564.17 L278.77,561.07 L278.89,558.13 L279.02,555.35 L279.14,552.71 L279.26,550.2 L279.38,547.82 L279.5,545.55 L279.63,543.39 L279.75,541.33 L279.87,539.37 L279.99,537.49 L280.12,535.71 L280.24,534 L280.36,532.38 L280.48,530.83 L280.61,529.34 L280.73,527.93 L280.85,526.59 L280.97,525.3 L281.1,524.05 L281.22,522.86 L281.34,521.74 L281.46,520.66 L281.59,519.65 L281.71,518.69 L281.83,517.78 L281.95,516.92 L282.08,516.12 L282.2,515.36 L282.32,514.65 L282.44,513.99 L282.56,513.38 L282.69,512.82 L282.81,512.3 L282.93,511.82 L283.05,511.39 L283.18,511.01 L283.3,510.67 L283.42,510.37 L283.54,510.12 L283.67,509.91 L283.79,509.74 L283.91,509.62 L284.03,509.54 L284.16,509.51 L284.28,509.51 L284.4,509.57 L284.52,509.66 L284.65,509.8 L284.77,509.98 L284.89,510.21 L285.01,510.49 L285.14,510.81 L285.26,511.17 L285.38,511.59 L285.5,512.05 L285.62,512.56 L285.75,513.12 L285.87,513.73 L285.99,514.4 L286.11,515.11 L286.24,515.88 L286.36,516.71 L286.48,517.59 L286.6,518.53 L286.73,519.54 L286.85,520.6 L286.97,521.73 L287.09,522.93 L287.22,524.2 L287.34,525.54 L287.46,526.93 L287.58,528.39 L287.71,529.94 L287.83,531.57 L287.95,533.29 L288.07,535.11 L288.2,537.03 L288.32,539.06 L288.44,541.2 L288.56,543.47 L288.68,545.87 L288.81,548.41 L288.93,551.1 L289.05,553.97 L289.17,557.01 L289.3,560.26 L289.42,563.73 L289.44,564.3 M293.33,564.3 L293.36,563.14 L293.48,559.15 L293.6,555.41 L293.71,551.89 L293.83,548.57 L293.94,545.44 L294.06,542.47 L294.18,539.66 L294.29,536.99 L294.41,534.46 L294.53,532.04 L294.64,529.75 L294.76,527.55 L294.88,525.46 L294.99,523.43 L295.11,521.48 L295.22,519.62 L295.34,517.84 L295.46,516.15 L295.57,514.53 L295.69,512.98 L295.81,511.51 L295.92,510.1 L296.04,508.75 L296.16,507.47 L296.27,506.25 L296.39,505.09 L296.51,503.99 L296.62,502.94 L296.74,501.95 L296.85,501.01 L296.97,500.12 L297.09,499.28 L297.2,498.49 L297.32,497.75 L297.44,497.06 L297.55,496.41 L297.67,495.81 L297.79,495.26 L297.9,494.75 L298.02,494.29 L298.13,493.87 L298.25,493.49 L298.37,493.16 L298.48,492.87 L298.6,492.63 L298.72,492.43 L298.83,492.27 L298.95,492.16 L299.07,492.09 L299.18,492.06 L299.3,492.07 L299.42,492.13 L299.53,492.24 L299.65,492.39 L299.76,492.58 L299.88,492.82 L300,493.1 L300.11,493.43 L300.23,493.81 L300.35,494.23 L300.46,494.71 L300.58,495.23 L300.7,495.8 L300.81,496.43 L300.93,497.11 L301.04,497.84 L301.16,498.63 L301.28,499.47 L301.39,500.37 L301.51,501.34 L301.63,502.37 L301.74,503.46 L301.86,504.62 L301.98,505.85 L302.09,507.15 L302.21,508.53 L302.33,509.99 L302.44,511.53 L302.56,513.16 L302.67,514.88 L302.79,516.7 L302.91,518.63 L303.02,520.66 L303.14,522.81 L303.26,525.09 L303.37,527.46 L303.49,529.96 L303.61,532.61 L303.72,535.43 L303.84,538.44 L303.95,541.65 L304.07,545.08 L304.19,548.75 L304.3,552.71 L304.42,556.98 L304.54,561.61 L304.6,564.3 M307.41,564.3 L307.45,562.33 L307.56,556.93 L307.68,551.94 L307.8,547.31 L307.91,543 L308.03,538.96 L308.15,535.17 L308.26,531.6 L308.38,528.24 L308.49,525.05 L308.61,521.96 L308.73,519.03 L308.84,516.25 L308.96,513.6 L309.08,511.08 L309.19,508.68 L309.31,506.38 L309.43,504.19 L309.54,502.1 L309.66,500.1 L309.77,498.19 L309.89,496.36 L310.01,494.61 L310.12,492.94 L310.24,491.34 L310.36,489.8 L310.47,488.34 L310.59,486.94 L310.71,485.61 L310.82,484.38 L310.94,483.21 L311.06,482.09 L311.17,481.02 L311.29,480.01 L311.4,479.04 L311.52,478.13 L311.64,477.26 L311.75,476.45 L311.87,475.68 L311.99,474.95 L312.1,474.27 L312.22,473.64 L312.34,473.04 L312.45,472.49 L312.57,471.99 L312.68,471.53 L312.8,471.11 L312.92,470.73 L313.03,470.39 L313.15,470.09 L313.27,469.84 L313.38,469.63 L313.5,469.45 L313.62,469.32 L313.73,469.24 L313.85,469.19 L313.97,469.18 L314.08,469.22 L314.2,469.3 L314.31,469.42 L314.43,469.59 L314.55,469.8 L314.66,470.05 L314.78,470.35 L314.9,470.7 L315.01,471.09 L315.13,471.52 L315.25,472.01 L315.36,472.55 L315.48,473.13 L315.59,473.77 L315.71,474.46 L315.83,475.21 L315.94,476.01 L316.06,476.88 L316.18,477.8 L316.29,478.78 L316.41,479.83 L316.53,480.94 L316.64,482.13 L316.76,483.39 L316.88,484.72 L316.99,486.15 L317.11,487.7 L317.22,489.35 L317.34,491.09 L317.46,492.94 L317.57,494.9 L317.69,496.97 L317.81,499.17 L317.92,501.5 L318.04,503.98 L318.16,506.62 L318.27,509.43 L318.39,512.42 L318.5,515.62 L318.62,519.05 L318.74,522.73 L318.85,526.66 L318.97,530.85 L319.09,535.4 L319.2,540.36 L319.32,545.8 L319.44,551.81 L319.55,558.52 L319.64,564.3 M321.51,564.3 L321.54,561.76 L321.65,553.67 L321.77,546.42 L321.89,539.86 L322.01,533.88 L322.12,528.38 L322.24,523.24 L322.36,518.4 L322.48,513.89 L322.59,509.65 L322.71,505.67 L322.83,501.92 L322.94,498.37 L323.06,495.01 L323.18,491.81 L323.3,488.78 L323.41,485.89 L323.53,483.23 L323.65,480.69 L323.76,478.26 L323.88,475.94 L324,473.72 L324.12,471.59 L324.23,469.55 L324.35,467.6 L324.47,465.72 L324.58,463.92 L324.7,462.19 L324.82,460.53 L324.94,458.94 L325.05,457.41 L325.17,455.95 L325.29,454.54 L325.41,453.19 L325.52,451.9 L325.64,450.66 L325.76,449.47 L325.87,448.33 L325.99,447.24 L326.11,446.18 L326.23,445.16 L326.34,444.2 L326.46,443.28 L326.58,442.4 L326.69,441.57 L326.81,440.79 L326.93,440.05 L327.05,439.35 L327.16,438.7 L327.28,438.09 L327.4,437.52 L327.51,436.99 L327.63,436.5 L327.75,436.06 L327.87,435.65 L327.98,435.29 L328.1,434.97 L328.22,434.68 L328.34,434.44 L328.45,434.25 L328.57,434.09 L328.69,433.97 L328.8,433.9 L328.92,433.87 L329.04,433.88 L329.16,433.94 L329.27,434.04 L329.39,434.18 L329.51,434.37 L329.62,434.61 L329.74,434.89 L329.86,435.22 L329.98,435.6 L330.09,436.03 L330.21,436.51 L330.33,437.05 L330.44,437.64 L330.56,438.28 L330.68,438.98 L330.8,439.75 L330.91,440.57 L331.03,441.46 L331.15,442.42 L331.27,443.44 L331.38,444.54 L331.5,445.72 L331.62,446.97 L331.73,448.29 L331.85,449.69 L331.97,451.18 L332.09,452.76 L332.2,454.45 L332.32,456.25 L332.44,458.17 L332.55,460.21 L332.67,462.4 L332.79,464.73 L332.91,467.23 L333.02,469.9 L333.14,472.77 L333.26,475.86 L333.37,479.19 L333.49,482.79 L333.61,486.73 L333.73,491.15 L333.84,495.99 L333.96,501.31 L334.08,507.22 L334.2,513.84 L334.31,521.32 L334.43,529.8 L334.55,539.59 L334.66,551.28 L334.77,564.3 M335.7,564.3 L335.72,561.42 L335.84,545.89 L335.95,533.11 L336.07,522.17 L336.19,512.48 L336.3,503.89 L336.42,496.17 L336.54,489.14 L336.66,482.81 L336.77,477.07 L336.89,471.74 L337.01,466.75 L337.13,462.07 L337.24,457.65 L337.36,453.48 L337.48,449.52 L337.59,445.71 L337.71,442.04 L337.83,438.53 L337.95,435.17 L338.06,431.94 L338.18,428.84 L338.3,425.86 L338.41,423 L338.53,420.23 L338.65,417.56 L338.77,414.97 L338.88,412.48 L339,410.06 L339.12,407.71 L339.23,405.4 L339.35,403.17 L339.47,401 L339.59,398.9 L339.7,396.85 L339.82,394.86 L339.94,392.92 L340.06,391.03 L340.17,389.2 L340.29,387.41 L340.41,385.67 L340.52,383.97 L340.64,382.31 L340.76,380.69 L340.88,379.12 L340.99,377.58 L341.11,376.08 L341.23,374.61 L341.34,373.18 L341.46,371.79 L341.58,370.42 L341.7,369.09 L341.81,367.82 L341.93,366.61 L342.05,365.41 L342.16,364.25 L342.28,363.12 L342.4,362.01 L342.52,360.92 L342.63,359.86 L342.75,358.83 L342.87,357.82 L342.99,356.83 L343.1,355.87 L343.22,354.93 L343.34,354.01 L343.45,353.11 L343.57,352.24 L343.69,351.38 L343.81,350.55 L343.92,349.73 L344.04,348.94 L344.16,348.17 L344.27,347.41 L344.39,346.68 L344.51,345.96 L344.63,345.27 L344.74,344.59 L344.86,343.93 L344.98,343.28 L345.09,342.66 L345.21,342.05 L345.33,341.46 L345.45,340.89 L345.56,340.33 L345.68,339.79 L345.8,339.27 L345.92,338.76 L346.03,338.27 L346.15,337.8 L346.27,337.34 L346.38,336.89 L346.5,336.47 L346.62,336.06 L346.74,335.66 L346.85,335.28 L346.97,334.91 L347.09,334.56 L347.2,334.23 L347.32,333.91 L347.44,333.6 L347.56,333.31 L347.67,333.03 L347.79,332.77 L347.91,332.53 L348.02,332.29 L348.14,332.08 L348.26,331.87 L348.38,331.68 L348.49,331.51 L348.61,331.35 L348.73,331.2 L348.85,331.07 L348.96,330.95 L349.08,330.84 L349.2,330.75 L349.31,330.67 L349.43,330.61 L349.55,330.56 L349.67,330.53 L349.78,330.51 L349.9,330.5 L350.02,330.51 L350.14,330.53 L350.26,330.56 L350.37,330.61 L350.49,330.67 L350.61,330.75 L350.73,330.84 L350.85,330.95 L350.97,331.07 L351.08,331.2 L351.2,331.35 L351.32,331.51 L351.44,331.68 L351.56,331.87 L351.68,332.08 L351.79,332.29 L351.91,332.53 L352.03,332.77 L352.15,333.03 L352.27,333.31 L352.39,333.6 L352.5,333.91 L352.62,334.23 L352.74,334.56 L352.86,334.91 L352.98,335.28 L353.1,335.66 L353.22,336.06 L353.33,336.47 L353.45,336.89 L353.57,337.34 L353.69,337.8 L353.81,338.27 L353.93,338.76 L354.04,339.27 L354.16,339.79 L354.28,340.33 L354.4,340.89 L354.52,341.46 L354.64,342.05 L354.75,342.66 L354.87,343.28 L354.99,343.93 L355.11,344.59 L355.23,345.27 L355.35,345.96 L355.46,346.68 L355.58,347.41 L355.7,348.17 L355.82,348.94 L355.94,349.73 L356.06,350.55 L356.18,351.38 L356.29,352.24 L356.41,353.11 L356.53,354.01 L356.65,354.93 L356.77,355.87 L356.89,356.83 L357,357.82 L357.12,358.83 L357.24,359.86 L357.36,360.92 L357.48,362.01 L357.6,363.12 L357.71,364.25 L357.83,365.41 L357.95,366.61 L358.07,367.82 L358.19,369.09 L358.31,370.42 L358.42,371.79 L358.54,373.18 L358.66,374.61 L358.78,376.08 L358.9,377.58 L359.02,379.12 L359.14,380.69 L359.25,382.31 L359.37,383.97 L359.49,385.67 L359.61,387.41 L359.73,389.2 L359.85,391.03 L359.96,392.92 L360.08,394.86 L360.2,396.85 L360.32,398.9 L360.44,401 L360.56,403.17 L360.67,405.4 L360.79,407.71 L360.91,410.06 L361.03,412.48 L361.15,414.97 L361.27,417.56 L361.38,420.23 L361.5,423 L361.62,425.86 L361.74,428.84 L361.86,431.94 L361.98,435.17 L362.1,438.53 L362.21,442.04 L362.33,445.71 L362.45,449.52 L362.57,453.48 L362.69,457.65 L362.81,462.07 L362.92,466.75 L363.04,471.74 L363.16,477.07 L363.28,482.81 L363.4,489.14 L363.52,496.17 L363.63,503.89 L363.75,512.48 L363.87,522.17 L363.99,533.11 L364.11,545.89 L364.23,561.42 L364.24,564.3 M365.19,564.3 L365.29,551.28 L365.41,539.59 L365.53,529.8 L365.65,521.32 L365.77,513.84 L365.88,507.22 L366,501.31 L366.12,495.99 L366.24,491.15 L366.36,486.73 L366.48,482.79 L366.59,479.19 L366.71,475.86 L366.83,472.77 L366.95,469.9 L367.07,467.23 L367.19,464.73 L367.3,462.4 L367.42,460.21 L367.54,458.17 L367.66,456.25 L367.78,454.45 L367.9,452.76 L368.02,451.18 L368.13,449.69 L368.25,448.29 L368.37,446.97 L368.49,445.72 L368.61,444.54 L368.73,443.44 L368.84,442.42 L368.96,441.46 L369.08,440.57 L369.2,439.75 L369.32,438.98 L369.44,438.28 L369.55,437.64 L369.67,437.05 L369.79,436.51 L369.91,436.03 L370.03,435.6 L370.15,435.22 L370.26,434.89 L370.38,434.61 L370.5,434.37 L370.62,434.18 L370.74,434.04 L370.86,433.94 L370.98,433.88 L371.09,433.87 L371.21,433.9 L371.33,433.97 L371.45,434.09 L371.57,434.25 L371.69,434.44 L371.8,434.68 L371.92,434.97 L372.04,435.29 L372.16,435.65 L372.28,436.06 L372.4,436.5 L372.51,436.99 L372.63,437.52 L372.75,438.09 L372.87,438.7 L372.99,439.35 L373.11,440.05 L373.22,440.79 L373.34,441.57 L373.46,442.4 L373.58,443.28 L373.7,444.2 L373.82,445.16 L373.94,446.18 L374.05,447.24 L374.17,448.33 L374.29,449.47 L374.41,450.66 L374.53,451.9 L374.65,453.19 L374.76,454.54 L374.88,455.95 L375,457.41 L375.12,458.94 L375.24,460.53 L375.36,462.19 L375.47,463.92 L375.59,465.72 L375.71,467.6 L375.83,469.55 L375.95,471.59 L376.07,473.72 L376.18,475.94 L376.3,478.26 L376.42,480.69 L376.54,483.23 L376.66,485.89 L376.78,488.78 L376.9,491.81 L377.01,495.01 L377.13,498.37 L377.25,501.92 L377.37,505.67 L377.49,509.65 L377.61,513.89 L377.72,518.4 L377.84,523.24 L377.96,528.38 L378.08,533.88 L378.2,539.86 L378.32,546.42 L378.43,553.67 L378.55,561.76 L378.59,564.3 M380.46,564.3 L380.54,558.52 L380.66,551.81 L380.78,545.8 L380.89,540.36 L381.01,535.4 L381.12,530.85 L381.24,526.66 L381.36,522.73 L381.47,519.05 L381.59,515.62 L381.7,512.42 L381.82,509.43 L381.94,506.62 L382.05,503.98 L382.17,501.5 L382.28,499.17 L382.4,496.97 L382.52,494.9 L382.63,492.94 L382.75,491.09 L382.86,489.35 L382.98,487.7 L383.1,486.15 L383.21,484.72 L383.33,483.39 L383.44,482.13 L383.56,480.94 L383.68,479.83 L383.79,478.78 L383.91,477.8 L384.02,476.88 L384.14,476.01 L384.26,475.21 L384.37,474.46 L384.49,473.77 L384.6,473.13 L384.72,472.55 L384.84,472.01 L384.95,471.52 L385.07,471.09 L385.18,470.7 L385.3,470.35 L385.42,470.05 L385.53,469.8 L385.65,469.59 L385.76,469.42 L385.88,469.3 L386,469.22 L386.11,469.18 L386.23,469.19 L386.34,469.24 L386.46,469.32 L386.58,469.45 L386.69,469.63 L386.81,469.84 L386.92,470.09 L387.04,470.39 L387.16,470.73 L387.27,471.11 L387.39,471.53 L387.5,471.99 L387.62,472.49 L387.74,473.04 L387.85,473.64 L387.97,474.27 L388.08,474.95 L388.2,475.68 L388.32,476.45 L388.43,477.26 L388.55,478.13 L388.66,479.04 L388.78,480.01 L388.9,481.02 L389.01,482.09 L389.13,483.21 L389.24,484.38 L389.36,485.61 L389.48,486.94 L389.59,488.34 L389.71,489.8 L389.82,491.34 L389.94,492.94 L390.06,494.61 L390.17,496.36 L390.29,498.19 L390.4,500.1 L390.52,502.1 L390.64,504.19 L390.75,506.38 L390.87,508.68 L390.98,511.08 L391.1,513.6 L391.22,516.25 L391.33,519.03 L391.45,521.96 L391.56,525.05 L391.68,528.24 L391.8,531.6 L391.91,535.17 L392.03,538.96 L392.14,543 L392.26,547.31 L392.38,551.94 L392.49,556.93 L392.61,562.33 L392.65,564.3 M395.45,564.3 L395.51,561.61 L395.62,556.98 L395.74,552.71 L395.86,548.75 L395.97,545.08 L396.09,541.65 L396.2,538.44 L396.32,535.43 L396.44,532.61 L396.55,529.96 L396.67,527.46 L396.78,525.09 L396.9,522.81 L397.02,520.66 L397.13,518.63 L397.25,516.7 L397.36,514.88 L397.48,513.16 L397.6,511.53 L397.71,509.99 L397.83,508.53 L397.94,507.15 L398.06,505.85 L398.18,504.62 L398.29,503.46 L398.41,502.37 L398.52,501.34 L398.64,500.37 L398.76,499.47 L398.87,498.63 L398.99,497.84 L399.1,497.11 L399.22,496.43 L399.34,495.8 L399.45,495.23 L399.57,494.71 L399.68,494.23 L399.8,493.81 L399.92,493.43 L400.03,493.1 L400.15,492.82 L400.26,492.58 L400.38,492.39 L400.5,492.24 L400.61,492.13 L400.73,492.07 L400.84,492.06 L400.96,492.09 L401.08,492.16 L401.19,492.27 L401.31,492.43 L401.42,492.63 L401.54,492.87 L401.66,493.16 L401.77,493.49 L401.89,493.87 L402,494.29 L402.12,494.75 L402.24,495.26 L402.35,495.81 L402.47,496.41 L402.58,497.06 L402.7,497.75 L402.82,498.49 L402.93,499.28 L403.05,500.12 L403.16,501.01 L403.28,501.95 L403.4,502.94 L403.51,503.99 L403.63,505.09 L403.74,506.25 L403.86,507.47 L403.98,508.75 L404.09,510.1 L404.21,511.51 L404.32,512.98 L404.44,514.53 L404.56,516.15 L404.67,517.84 L404.79,519.62 L404.9,521.48 L405.02,523.43 L405.14,525.46 L405.25,527.55 L405.37,529.75 L405.48,532.04 L405.6,534.46 L405.72,536.99 L405.83,539.66 L405.95,542.47 L406.06,545.44 L406.18,548.57 L406.3,551.89 L406.41,555.41 L406.53,559.15 L406.64,563.14 L406.68,564.3 M410.52,564.3 L410.54,563.73 L410.66,560.26 L410.78,557.01 L410.9,553.97 L411.02,551.1 L411.14,548.41 L411.26,545.87 L411.38,543.47 L411.5,541.2 L411.62,539.06 L411.74,537.03 L411.86,535.11 L411.98,533.29 L412.1,531.57 L412.22,529.94 L412.34,528.39 L412.46,526.93 L412.58,525.54 L412.7,524.2 L412.82,522.93 L412.94,521.73 L413.06,520.6 L413.18,519.54 L413.3,518.53 L413.42,517.59 L413.54,516.71 L413.66,515.88 L413.78,515.11 L413.9,514.4 L414.02,513.73 L414.14,513.12 L414.26,512.56 L414.38,512.05 L414.5,511.59 L414.62,511.17 L414.74,510.81 L414.86,510.49 L414.98,510.21 L415.1,509.98 L415.22,509.8 L415.34,509.66 L415.46,509.57 L415.58,509.51 L415.7,509.51 L415.82,509.54 L415.94,509.62 L416.06,509.74 L416.18,509.91 L416.3,510.12 L416.42,510.37 L416.54,510.67 L416.66,511.01 L416.78,511.39 L416.9,511.82 L417.02,512.3 L417.14,512.82 L417.26,513.38 L417.38,513.99 L417.5,514.65 L417.62,515.36 L417.74,516.12 L417.86,516.92 L417.98,517.78 L418.1,518.69 L418.22,519.65 L418.34,520.66 L418.46,521.74 L418.58,522.86 L418.7,524.05 L418.82,525.3 L418.94,526.59 L419.06,527.93 L419.18,529.34 L419.3,530.83 L419.42,532.38 L419.54,534 L419.66,535.71 L419.78,537.49 L419.9,539.37 L420.02,541.33 L420.14,543.39 L420.26,545.55 L420.38,547.82 L420.5,550.2 L420.62,552.71 L420.74,555.35 L420.86,558.13 L420.98,561.07 L421.1,564.17 L421.1,564.3 M426.08,564.3 L426.14,562.88 L426.26,560.31 L426.38,557.89 L426.5,555.6 L426.62,553.43 L426.74,551.38 L426.86,549.43 L426.98,547.59 L427.1,545.84 L427.22,544.19 L427.34,542.62 L427.46,541.13 L427.58,539.72 L427.7,538.38 L427.82,537.12 L427.94,535.92 L428.06,534.79 L428.18,533.73 L428.3,532.72 L428.42,531.78 L428.54,530.89 L428.66,530.06 L428.78,529.29 L428.9,528.57 L429.02,527.89 L429.14,527.27 L429.26,526.7 L429.38,526.18 L429.5,525.71 L429.62,525.28 L429.74,524.89 L429.86,524.54 L429.98,524.24 L430.1,523.99 L430.22,523.79 L430.34,523.62 L430.46,523.51 L430.58,523.43 L430.7,523.4 L430.82,523.42 L430.94,523.47 L431.06,523.57 L431.18,523.72 L431.3,523.9 L431.42,524.13 L431.54,524.41 L431.66,524.73 L431.78,525.09 L431.9,525.5 L432.02,525.94 L432.14,526.43 L432.26,526.96 L432.38,527.54 L432.5,528.16 L432.62,528.83 L432.74,529.55 L432.86,530.31 L432.98,531.13 L433.1,532 L433.22,532.92 L433.34,533.89 L433.46,534.91 L433.58,536 L433.7,537.14 L433.82,538.34 L433.94,539.6 L434.06,540.93 L434.18,542.32 L434.3,543.78 L434.42,545.31 L434.54,546.92 L434.66,548.6 L434.78,550.37 L434.9,552.22 L435.02,554.16 L435.14,556.2 L435.26,558.35 L435.38,560.59 L435.5,562.96 L435.56,564.3 M441.61,564.3 L441.68,563.2 L441.79,561.24 L441.91,559.38 L442.03,557.62 L442.15,555.94 L442.26,554.36 L442.38,552.85 L442.5,551.42 L442.62,550.07 L442.73,548.79 L442.85,547.58 L442.97,546.44 L443.09,545.35 L443.2,544.33 L443.32,543.37 L443.44,542.47 L443.56,541.63 L443.67,540.83 L443.79,540.1 L443.91,539.41 L444.03,538.77 L444.14,538.19 L444.26,537.65 L444.38,537.16 L444.5,536.72 L444.62,536.32 L444.73,535.97 L444.85,535.66 L444.97,535.4 L445.09,535.18 L445.2,535.01 L445.32,534.88 L445.44,534.79 L445.56,534.75 L445.67,534.75 L445.79,534.79 L445.91,534.87 L446.03,534.99 L446.14,535.16 L446.26,535.37 L446.38,535.63 L446.5,535.92 L446.61,536.26 L446.73,536.65 L446.85,537.07 L446.97,537.55 L447.08,538.06 L447.2,538.62 L447.32,539.23 L447.44,539.89 L447.56,540.59 L447.67,541.34 L447.79,542.15 L447.91,543 L448.03,543.9 L448.14,544.86 L448.26,545.87 L448.38,546.94 L448.5,548.07 L448.61,549.25 L448.73,550.5 L448.85,551.81 L448.97,553.19 L449.08,554.64 L449.2,556.16 L449.32,557.75 L449.44,559.42 L449.55,561.17 L449.67,563.01 L449.75,564.3 M456.97,564.3 L457.08,562.83 L457.2,561.4 L457.32,560.03 L457.43,558.74 L457.55,557.52 L457.67,556.36 L457.79,555.27 L457.9,554.24 L458.02,553.26 L458.14,552.35 L458.26,551.49 L458.37,550.69 L458.49,549.94 L458.61,549.24 L458.73,548.59 L458.84,547.99 L458.96,547.45 L459.08,546.94 L459.2,546.49 L459.32,546.08 L459.43,545.72 L459.55,545.4 L459.67,545.13 L459.79,544.9 L459.9,544.72 L460.02,544.57 L460.14,544.48 L460.26,544.42 L460.37,544.41 L460.49,544.44 L460.61,544.51 L460.73,544.62 L460.84,544.78 L460.96,544.98 L461.08,545.22 L461.2,545.51 L461.31,545.84 L461.43,546.21 L461.55,546.63 L461.67,547.09 L461.78,547.59 L461.9,548.14 L462.02,548.74 L462.14,549.39 L462.26,550.08 L462.37,550.82 L462.49,551.61 L462.61,552.45 L462.73,553.35 L462.84,554.3 L462.96,555.3 L463.08,556.36 L463.2,557.47 L463.31,558.65 L463.43,559.88 L463.55,561.18 L463.67,562.55 L463.78,563.99 L463.81,564.3 M472.48,564.3 L472.52,563.91 L472.64,562.87 L472.75,561.89 L472.87,560.96 L472.99,560.1 L473.11,559.28 L473.23,558.53 L473.35,557.82 L473.46,557.16 L473.58,556.56 L473.7,556 L473.82,555.49 L473.94,555.03 L474.06,554.61 L474.18,554.24 L474.29,553.91 L474.41,553.63 L474.53,553.39 L474.65,553.2 L474.77,553.05 L474.89,552.94 L475,552.88 L475.12,552.86 L475.24,552.88 L475.36,552.94 L475.48,553.05 L475.6,553.2 L475.71,553.39 L475.83,553.62 L475.95,553.9 L476.07,554.22 L476.19,554.58 L476.31,554.99 L476.42,555.44 L476.54,555.94 L476.66,556.48 L476.78,557.07 L476.9,557.71 L477.02,558.4 L477.14,559.13 L477.25,559.91 L477.37,560.75 L477.49,561.63 L477.61,562.57 L477.73,563.56 L477.81,564.3" fill="none" stroke="#1a1a1a" stroke-width="1.2" stroke-linejoin="round"/>
<line x1="309.2" y1="361.4" x2="333.81" y2="368.63" stroke="#1a1a1a" stroke-width="1.9"/><polygon points="341.2,370.8 330.51,372.77 333.27,363.36" fill="#1a1a1a"/>
<line x1="418.9" y1="395.5" x2="390.27" y2="423.32" stroke="#1a1a1a" stroke-width="1.9"/><polygon points="383.6,429.8 388.43,418.55 394.98,425.3" fill="#1a1a1a"/>
<text x="212.9" y="353" font-size="12.5" text-anchor="start" font-weight="bold" fill="#1a1a1a" textLength="101.2" lengthAdjust="spacingAndGlyphs" >No Phase Switch</text>
<text x="373.6" y="366.3" font-size="12.5" text-anchor="start" font-weight="bold" fill="#1a1a1a" textLength="81.5" lengthAdjust="spacingAndGlyphs" >Phase Switch</text>
<text x="374.3" y="383.9" font-size="12.5" text-anchor="start" font-weight="bold" fill="#1a1a1a" textLength="79.2" lengthAdjust="spacingAndGlyphs" >@ 75%  Point</text>
<text x="196.5" y="334.5" font-size="12.2" text-anchor="end" font-weight="normal" fill="#222" >0</text>
<text x="196.5" y="372.6" font-size="12.2" text-anchor="end" font-weight="normal" fill="#222" >–5</text>
<text x="196.5" y="412.3" font-size="12.2" text-anchor="end" font-weight="normal" fill="#222" >–10</text>
<text x="196.5" y="451.5" font-size="12.2" text-anchor="end" font-weight="normal" fill="#222" >–15</text>
<text x="196.5" y="489.8" font-size="12.2" text-anchor="end" font-weight="normal" fill="#222" >–20</text>
<text x="196.5" y="529.5" font-size="12.2" text-anchor="end" font-weight="normal" fill="#222" >–25</text>
<text x="196.5" y="568.3" font-size="12.2" text-anchor="end" font-weight="normal" fill="#222" >–30</text>
<text x="201" y="578.7" font-size="12.2" text-anchor="middle" font-weight="normal" fill="#222" >–10</text>
<text x="230" y="578.7" font-size="12.2" text-anchor="middle" font-weight="normal" fill="#222" >–8</text>
<text x="258.4" y="578.7" font-size="12.2" text-anchor="middle" font-weight="normal" fill="#222" >–6</text>
<text x="289" y="578.7" font-size="12.2" text-anchor="middle" font-weight="normal" fill="#222" >–4</text>
<text x="318.1" y="578.7" font-size="12.2" text-anchor="middle" font-weight="normal" fill="#222" >–2</text>
<text x="349.9" y="578.7" font-size="12.2" text-anchor="middle" font-weight="normal" fill="#222" >0</text>
<text x="379.5" y="578.7" font-size="12.2" text-anchor="middle" font-weight="normal" fill="#222" >2</text>
<text x="408.5" y="578.7" font-size="12.2" text-anchor="middle" font-weight="normal" fill="#222" >4</text>
<text x="438.5" y="578.7" font-size="12.2" text-anchor="middle" font-weight="normal" fill="#222" >6</text>
<text x="467.9" y="578.7" font-size="12.2" text-anchor="middle" font-weight="normal" fill="#222" >8</text>
<text x="498.5" y="578.7" font-size="12.2" text-anchor="middle" font-weight="normal" fill="#222" >10</text>
<text x="277.1" y="597.5" font-size="12.95" fill="#222">Normalized Frequency <tspan font-family="'Liberation Serif', serif" font-style="italic" font-size="14">Fτ</tspan></text>
<text x="321.5" y="613.5" font-size="12" fill="#222">(<tspan font-style="italic">b</tspan>)</text>
<text transform="translate(163.6,447) rotate(-90)" font-size="12.9" text-anchor="middle" fill="#222">Amplitude</text>
<line x1="102.4" y1="624.2" x2="582.9" y2="624.2" stroke="#151515" stroke-width="1.45"/>
</svg>
<div class="cap" id="c1" style="top:625.2px;word-spacing:-0.17px"><span class="b">F<span class="sc">IGURE</span> 4.45</span>&nbsp;&nbsp; Effect of a single 180&deg; phase switch on the spectrum of a</div>
<div class="cap" id="c2" style="top:643.5px;word-spacing:0.26px">constant-frequency pulse: (<i>a</i>) phase switch occurs at <i>t</i> = <i>&tau;</i>/2, (<i>b</i>) phase switch</div>
<div class="cap" id="c3" style="top:661.7px">occurs at <i>t</i> = 3<i>&tau;</i>/4.</div>
</body></html>
